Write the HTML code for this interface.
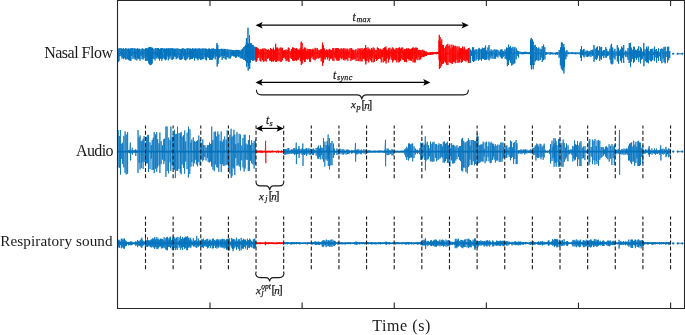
<!DOCTYPE html>
<html><head><meta charset="utf-8">
<style>
html,body{margin:0;padding:0;background:#fff;}
body{width:685px;height:335px;overflow:hidden;}
svg{display:block;will-change:transform;}
text{font-family:"Liberation Serif",serif;fill:#1a1a1a;}
.m{font-style:italic;}
.k{stroke:#1a1a1a;stroke-width:0.25px;}
</style></head>
<body>
<svg width="685" height="335" viewBox="0 0 685 335">
<rect x="0" y="0" width="685" height="335" fill="#fff"/>
<g id="waves">
<path d="M118.0 53.3L118.0 54.1 118.0 49.0 118.1 62.2 118.2 53.3 118.9 52.1 119.0 48.3 119.0 61.1 119.1 54.3 119.8 53.1 119.9 56.1 120.0 48.2 120.0 52.5 121.0 51.9 121.1 56.3 121.2 48.1 121.2 54.6 121.9 51.9 122.0 48.9 122.0 58.5 122.1 53.1 122.9 52.5 122.9 48.8 123.0 57.5 123.0 52.7 123.5 53.7 123.6 48.1 123.7 59.1 123.7 54.8 124.7 54.0 124.7 58.1 124.8 49.0 124.9 54.6 125.6 52.7 125.7 59.6 125.7 48.1 125.8 54.4 126.8 51.9 126.8 48.5 126.9 59.3 126.9 54.2 127.7 53.9 127.7 59.1 127.8 48.9 127.8 52.9 128.6 53.4 128.6 48.5 128.7 60.1 128.7 53.3 129.3 54.7 129.3 59.8 129.4 49.3 129.4 53.0 130.0 54.1 130.1 60.9 130.1 48.5 130.2 54.4 130.8 53.5 130.9 48.5 130.9 60.8 131.0 52.6 131.8 54.2 131.8 56.1 131.9 48.0 132.0 54.5 132.9 53.5 132.9 48.2 133.0 59.0 133.0 52.0 134.0 53.3 134.1 48.4 134.2 57.4 134.2 52.9 134.9 53.6 134.9 48.4 135.0 59.4 135.1 51.9 135.7 54.4 135.7 59.3 135.8 48.9 135.9 54.2 136.8 53.8 136.9 48.8 136.9 60.4 137.0 51.9 137.5 52.1 137.5 57.6 137.6 48.2 137.7 52.8 138.2 52.3 138.3 49.0 138.3 59.0 138.4 53.9 139.1 51.9 139.2 48.7 139.2 58.7 139.3 53.1 139.9 53.3 139.9 49.1 140.0 60.6 140.1 53.6 141.0 52.2 141.1 56.2 141.1 49.4 141.2 52.3 142.1 52.5 142.1 59.1 142.2 48.3 142.3 54.2 143.1 53.0 143.1 59.5 143.2 48.8 143.2 52.8 144.1 54.7 144.1 57.9 144.2 49.2 144.2 52.7 145.2 54.0 145.3 48.7 145.4 60.8 145.4 52.6 145.9 54.3 146.0 56.4 146.0 48.1 146.1 53.5 146.7 53.9 146.7 60.9 146.8 48.1 146.8 52.9 147.5 53.1 147.6 48.6 147.6 60.5 147.7 52.1 148.6 52.8 148.6 60.3 148.7 48.3 148.7 54.5 148.6 47.5 148.8 63.5 148.9 53.3 149.2 54.8 149.3 59.3 149.4 48.5 149.4 52.8 149.4 47.0 149.6 64.5 149.7 53.3 150.0 54.6 150.1 47.8 150.2 62.2 150.2 54.4 150.3 47.0 150.5 65.2 150.6 53.3 151.1 52.5 151.1 62.9 151.2 48.0 151.3 52.1 151.2 47.5 151.3 64.6 151.5 53.3 151.9 54.1 151.9 58.5 152.0 47.6 152.0 54.3 152.0 48.0 152.2 63.6 152.3 53.3 152.7 54.4 152.8 58.9 152.8 48.3 152.9 54.7 153.9 52.1 153.9 49.0 154.0 59.1 154.1 52.0 155.1 52.8 155.1 60.3 155.2 48.2 155.2 54.1 155.9 52.0 156.0 48.4 156.1 57.5 156.1 54.5 156.9 52.6 157.0 58.7 157.0 48.1 157.1 54.3 157.6 52.1 157.6 56.7 157.7 48.3 157.8 51.9 158.4 52.1 158.4 48.0 158.5 58.5 158.6 52.5 159.5 52.9 159.5 60.6 159.6 49.1 159.7 54.5 160.3 52.1 160.4 58.7 160.4 48.8 160.5 51.9 161.0 53.6 161.0 48.1 161.1 57.8 161.2 52.7 161.7 54.7 161.7 48.1 161.8 60.8 161.9 52.4 162.7 53.9 162.8 59.0 162.8 48.1 162.9 52.6 163.7 52.0 163.7 48.8 163.8 57.6 163.9 54.8 164.6 54.6 164.7 48.4 164.7 59.4 164.8 52.7 165.5 54.5 165.5 48.8 165.6 60.3 165.6 52.8 166.4 52.5 166.5 48.4 166.6 59.2 166.6 52.5 167.1 52.0 167.2 56.5 167.3 48.5 167.3 52.7 168.3 52.3 168.3 60.3 168.4 48.5 168.4 54.2 169.0 54.1 169.0 57.2 169.1 48.1 169.1 54.3 169.8 54.6 169.9 49.1 169.9 58.8 170.0 54.5 170.6 52.7 170.6 56.3 170.7 48.2 170.7 54.2 171.7 53.9 171.8 48.2 171.9 59.8 171.9 53.1 172.5 52.6 172.5 48.3 172.6 59.5 172.7 54.7 173.6 54.4 173.7 48.5 173.7 58.9 173.8 53.0 174.5 53.7 174.5 48.9 174.6 56.2 174.6 53.5 175.2 52.2 175.2 48.7 175.3 56.9 175.3 54.3 176.1 52.5 176.1 48.7 176.2 59.2 176.2 53.4 177.0 53.9 177.1 58.4 177.1 48.4 177.2 52.5 178.0 53.0 178.0 57.4 178.1 48.6 178.1 54.5 179.2 51.9 179.2 48.9 179.3 59.3 179.3 53.3 180.3 54.4 180.4 49.1 180.4 59.8 180.5 53.9 181.5 54.0 181.5 59.6 181.6 48.8 181.6 54.4 182.6 52.3 182.7 48.2 182.8 59.0 182.8 52.5 183.6 53.8 183.7 56.4 183.8 48.4 183.8 52.8 184.6 51.9 184.6 59.7 184.7 49.1 184.8 54.2 185.6 54.7 185.7 48.9 185.7 60.4 185.8 54.1 186.8 53.1 186.8 59.5 186.9 48.5 186.9 54.7 187.6 52.3 187.7 48.3 187.8 58.4 187.8 52.2 188.8 53.6 188.9 48.2 188.9 56.8 189.0 52.2 189.7 51.8 189.7 49.0 189.8 59.7 189.8 53.1 190.3 54.3 190.4 48.5 190.5 59.1 190.5 52.7 191.3 52.6 191.4 59.0 191.4 48.9 191.5 54.2 192.4 53.3 192.5 58.8 192.6 48.2 192.6 54.1 193.4 52.1 193.5 57.6 193.5 48.8 193.6 52.2 194.5 54.1 194.6 60.5 194.6 48.6 194.7 52.2 195.5 53.3 195.5 48.6 195.6 57.7 195.6 53.4 196.1 52.7 196.2 48.7 196.3 58.4 196.3 54.1 197.2 52.9 197.2 48.7 197.3 59.2 197.4 51.8 198.0 54.3 198.1 60.2 198.1 48.6 198.2 54.8 198.9 54.0 199.0 58.2 199.1 48.4 199.1 52.7 199.7 52.9 199.8 48.6 199.8 58.7 199.9 53.0 200.6 53.6 200.7 60.0 200.7 48.8 200.8 54.5 201.7 53.7 201.8 59.6 201.8 48.7 201.9 53.7 202.6 54.6 202.6 59.1 202.7 48.6 202.8 54.3 203.7 52.8 203.8 48.4 203.8 59.0 203.9 53.9 204.9 54.3 204.9 48.7 205.0 56.9 205.0 53.2 205.6 53.1 205.6 48.7 205.7 59.6 205.7 53.8 206.2 53.9 206.3 48.7 206.4 60.3 206.4 53.9 207.2 54.5 207.3 49.1 207.4 57.2 207.4 52.0 208.4 53.3 208.4 57.9 208.5 48.7 208.5 52.3 209.4 52.6 209.5 59.8 209.5 48.5 209.6 52.5 210.4 54.4 210.5 49.2 210.5 59.7 210.6 52.5 211.6 51.9 211.7 59.9 211.7 48.6 211.8 53.7 212.5 54.2 212.5 48.9 212.6 59.5 212.6 53.7 213.2 54.5 213.3 58.2 213.3 48.4 213.4 53.6 214.0 52.2 214.1 56.7 214.2 48.8 214.2 52.9 215.1 54.0 215.2 49.2 215.2 59.3 215.3 52.1 216.0 52.4 216.1 48.9 216.1 56.5 216.2 53.6 217.0 43.0 217.2 66.6 217.3 53.3 217.2 53.9 217.2 56.0 217.3 49.3 217.4 54.7 217.8 45.0 218.0 64.0 218.1 53.3 218.2 52.2 218.3 59.6 218.3 49.2 218.4 52.1 219.1 52.3 219.1 49.0 219.2 57.8 219.3 54.3 220.0 53.9 220.1 49.0 220.1 57.0 220.2 53.6 221.2 54.2 221.3 56.1 221.3 48.7 221.4 52.8 222.1 53.0 222.1 59.8 222.2 49.0 222.3 54.1 222.8 52.2 222.9 55.8 223.0 48.8 223.0 52.0 223.7 54.3 223.8 58.0 223.8 49.6 223.9 51.9 224.4 52.6 224.5 48.9 224.5 56.0 224.6 52.1 225.1 53.9 225.2 59.1 225.2 49.1 225.3 53.8 226.0 53.7 226.0 49.2 226.1 59.7 226.2 52.0 227.2 53.6 227.2 57.2 227.3 49.4 227.4 53.4 227.9 52.4 227.9 57.4 228.0 49.7 228.1 53.1 228.9 54.0 229.0 58.4 229.1 49.5 229.1 52.6 230.2 54.4 230.2 58.7 230.3 50.1 230.3 52.0 230.9 52.9 230.9 57.2 231.0 49.6 231.0 51.9 231.8 53.0 231.9 55.8 232.0 50.0 232.0 54.4 232.5 54.2 232.6 50.0 232.6 55.6 232.7 51.9 233.4 52.2 233.5 56.3 233.5 50.0 233.6 54.2 234.6 52.5 234.6 56.5 234.7 50.4 234.7 52.8 235.4 53.6 235.5 50.1 235.5 57.9 235.6 53.8 236.3 54.3 236.4 57.4 236.5 49.9 236.5 53.4 237.5 52.3 237.6 49.9 237.6 56.2 237.7 53.4 238.2 51.9 238.3 57.1 238.4 50.2 238.4 53.8 239.1 52.8 239.1 56.5 239.2 50.2 239.2 53.3 240.0 52.8 240.1 50.3 240.2 58.2 240.2 52.0 241.3 54.6 241.3 58.4 241.4 49.7 241.4 54.2 242.5 52.2 242.5 58.8 242.6 48.6 242.6 53.5 243.7 54.0 243.7 47.1 243.8 59.9 243.9 54.6 244.7 54.7 244.8 59.8 244.8 46.3 244.9 52.3 245.5 54.5 245.5 44.9 245.6 61.2 245.6 53.0 246.5 38.0 246.7 67.0 246.8 53.3 246.5 53.4 246.6 45.5 246.7 58.6 246.7 52.1 247.4 52.0 247.4 42.9 247.5 62.8 247.5 54.4 248.0 27.7 248.2 70.7 248.3 53.3 248.4 51.9 248.4 43.7 248.5 65.8 248.6 54.3 249.5 53.6 249.5 65.5 249.6 43.8 249.6 54.5 249.5 35.0 249.7 69.0 249.8 53.3 250.4 54.6 250.4 62.7 250.5 43.3 250.5 54.0 251.5 52.4 251.6 60.0 251.6 43.4 251.7 54.1 252.5 54.4 252.5 60.6 252.6 45.0 252.6 53.6 253.1 52.4 253.2 45.0 253.3 60.6 253.3 53.9 253.8 54.5 253.9 59.2 253.9 46.9 254.0 54.7 254.8 53.4 254.8 60.3 254.9 46.7 255.0 54.3 256.0 52.7 256.0 47.8 256.1 60.1 256.2 53.3 256.1 53.3 256.1 54.4 256.2 61.7 256.2 47.2 256.3 54.3" fill="none" stroke="#0072BD" stroke-width="0.9" stroke-linejoin="round"/>
<path d="M468.3 53.3L468.3 53.2 468.4 63.0 468.4 48.2 468.5 53.4 469.2 52.7 469.2 47.8 469.3 62.7 469.4 52.6 470.5 54.0 470.5 63.0 470.6 49.5 470.7 53.5 471.4 52.8 471.4 50.8 471.5 55.9 471.5 52.5 472.4 53.5 472.5 47.2 472.6 60.8 472.6 53.6 473.5 53.8 473.6 62.0 473.6 47.4 473.7 53.0 474.4 53.1 474.5 61.1 474.6 50.2 474.6 53.1 475.8 54.0 475.9 49.2 476.0 60.6 476.0 54.1 476.9 52.9 476.9 49.7 477.0 59.0 477.0 53.0 478.3 52.7 478.3 48.8 478.4 60.6 478.5 53.8 479.2 53.7 479.2 47.9 479.3 59.6 479.3 53.5 480.0 54.1 480.1 59.4 480.1 49.2 480.2 53.0 481.4 53.5 481.4 49.3 481.5 60.7 481.5 54.1 482.3 53.0 482.3 47.7 482.4 58.8 482.4 52.6 483.4 53.2 483.5 58.8 483.6 48.2 483.6 53.3 484.6 54.0 484.6 60.0 484.7 47.7 484.8 52.9 485.5 54.0 485.5 59.8 485.6 45.6 485.6 53.5 486.5 52.9 486.6 59.6 486.6 50.5 486.7 52.9 487.8 53.7 487.9 47.5 488.0 59.1 488.0 52.9 489.0 54.0 489.0 45.0 489.1 60.4 489.1 52.5 489.9 53.1 490.0 56.7 490.0 51.0 490.1 52.7 490.9 53.6 491.0 58.7 491.1 49.3 491.1 52.7 491.7 54.0 491.8 51.3 491.8 55.7 491.9 53.5 492.8 52.6 492.9 58.7 492.9 50.2 493.0 53.7 494.2 54.0 494.2 49.3 494.3 58.7 494.4 53.6 495.5 53.9 495.6 58.7 495.7 49.7 495.7 53.5 496.6 53.5 496.6 56.5 496.7 49.7 496.7 53.9 497.8 53.2 497.9 57.5 497.9 49.9 498.0 52.6 499.1 52.9 499.1 55.5 499.2 51.5 499.3 53.3 500.3 53.0 500.3 56.8 500.4 50.1 500.4 52.8 501.1 53.9 501.2 49.3 501.3 58.3 501.3 53.6 502.0 53.9 502.1 49.6 502.2 58.6 502.2 53.4 503.0 53.9 503.1 57.0 503.1 51.1 503.2 54.0 504.0 52.8 504.0 51.0 504.1 56.0 504.1 53.5 505.1 53.2 505.1 49.3 505.2 58.9 505.2 52.6 506.4 53.0 506.5 59.4 506.5 47.7 506.6 52.5 507.3 52.9 507.3 47.7 507.4 66.2 507.4 52.6 508.5 53.8 508.5 65.0 508.6 44.6 508.6 53.6 509.4 53.3 509.4 60.2 509.5 47.4 509.5 52.8 510.3 53.5 510.4 62.7 510.4 46.1 510.5 53.1 511.6 53.7 511.7 47.8 511.7 65.5 511.8 53.2 512.8 53.9 512.8 64.7 512.9 46.8 513.0 54.0 513.9 53.8 513.9 63.8 514.0 48.6 514.0 53.6 514.8 53.4 514.8 63.2 514.9 46.9 514.9 53.0 516.1 53.2 516.2 59.3 516.3 48.4 516.3 53.7 517.2 53.8 517.3 50.6 517.4 55.7 517.4 53.0 518.5 53.7 518.6 57.5 518.6 51.2 518.7 53.6 519.9 52.9 520.0 54.0 520.0 51.6 520.1 53.0 521.2 53.4 521.2 52.0 521.3 54.2 521.3 53.1 522.5 54.0 522.6 54.2 522.6 52.1 522.7 53.4 523.4 52.5 523.5 54.1 523.5 52.1 523.6 53.3 524.4 53.6 524.5 51.8 524.6 54.1 524.6 53.4 525.5 53.3 525.5 51.8 525.6 54.0 525.7 53.2 526.8 52.8 526.8 54.1 526.9 51.9 527.0 54.0 527.6 52.9 527.7 53.9 527.8 52.4 527.8 53.0 528.6 52.7 528.7 54.2 528.8 52.4 528.8 52.9 529.5 53.2 529.6 54.0 529.7 52.1 529.7 52.8 530.5 53.9 530.5 65.1 530.6 40.1 530.6 53.9 531.2 37.9 531.4 69.4 531.5 53.3 531.4 53.0 531.4 38.7 531.5 68.5 531.5 54.0 532.3 52.9 532.3 65.0 532.4 39.4 532.5 52.9 533.1 52.7 533.2 41.7 533.2 69.2 533.3 53.6 533.9 54.0 534.0 45.2 534.0 65.0 534.1 53.3 535.2 52.6 535.2 44.9 535.3 61.4 535.3 52.6 536.3 52.8 536.4 47.1 536.4 60.2 536.5 53.8 537.7 54.0 537.8 48.3 537.9 60.4 537.9 53.7 538.7 53.5 538.8 47.5 538.8 60.8 538.9 53.6 540.0 53.1 540.1 48.8 540.2 60.0 540.2 52.8 541.2 53.6 541.2 57.5 541.3 49.3 541.3 53.5 542.2 53.8 542.2 46.2 542.3 61.9 542.4 54.0 543.5 53.9 543.5 60.1 543.6 44.6 543.6 53.6 544.7 52.6 544.8 47.2 544.9 59.4 544.9 53.3 545.5 52.9 545.6 54.5 545.6 52.4 545.7 53.6 546.5 53.1 546.6 54.6 546.6 52.3 546.7 53.5 547.7 53.5 547.8 54.2 547.9 52.2 547.9 52.9 548.8 52.7 548.8 52.9 548.9 53.9 548.9 53.9 549.9 54.1 550.0 54.6 550.0 52.2 550.1 53.8 550.7 54.0 550.8 52.2 550.8 54.2 550.9 53.3 551.6 54.0 551.7 52.4 551.7 54.1 551.8 53.3 552.8 53.4 552.8 52.6 552.9 54.5 552.9 53.6 553.7 52.8 553.8 53.7 553.9 53.0 553.9 53.1 555.1 54.0 555.1 52.6 555.2 54.8 555.3 53.9 556.2 53.3 556.2 54.3 556.3 52.2 556.3 53.7 557.2 52.7 557.3 54.8 557.3 52.2 557.4 53.2 558.1 53.2 558.2 53.8 558.3 52.8 558.3 53.2 559.1 53.3 559.1 57.7 559.2 50.0 559.2 54.0 560.3 53.8 560.4 65.4 560.5 47.4 560.5 53.1 561.3 53.5 561.3 68.6 561.4 42.4 561.5 52.8 562.2 52.6 562.3 42.7 562.3 70.5 562.4 52.9 563.3 52.6 563.3 47.7 563.4 69.3 563.4 53.6 563.8 44.0 563.9 73.4 564.1 53.3 564.4 52.8 564.4 47.5 564.5 66.8 564.6 53.7 565.7 53.5 565.8 59.3 565.8 51.3 565.9 52.8 566.8 53.5 566.8 56.5 566.9 50.0 566.9 53.0 567.9 53.1 568.0 51.8 568.0 54.2 568.1 53.9 568.7 53.6 568.8 52.6 568.8 53.7 568.9 53.7 569.5 53.0 569.6 53.6 569.7 52.4 569.7 53.6 570.5 53.1 570.6 52.7 570.6 53.8 570.7 53.6 571.6 53.2 571.7 54.1 571.8 52.1 571.8 53.0 572.6 52.9 572.7 52.1 572.7 54.1 572.8 53.1 573.6 53.4 573.7 53.8 573.8 52.5 573.8 53.4 575.0 53.9 575.0 52.5 575.1 54.2 575.1 52.5 576.1 53.5 576.1 54.3 576.2 52.3 576.2 52.6 577.2 53.7 577.3 54.0 577.3 52.6 577.4 52.6 578.4 52.9 578.4 52.6 578.5 54.0 578.6 53.7 579.5 54.0 579.6 54.2 579.6 52.4 579.7 53.3 580.5 53.3 580.5 52.7 580.5 49.4 580.6 57.7 580.7 53.1 581.4 53.4 581.4 61.0 581.5 46.0 581.5 52.7 582.3 53.8 582.4 50.4 582.4 55.0 582.5 53.6 583.2 52.6 583.3 55.8 583.4 49.2 583.4 53.3 584.0 53.2 584.0 48.9 584.1 57.4 584.2 53.0 585.1 52.8 585.1 54.4 585.2 51.9 585.2 53.1 586.0 52.5 586.1 56.6 586.1 50.6 586.2 54.0 587.3 53.6 587.3 56.9 587.4 50.6 587.5 52.7 588.1 53.3 588.2 51.4 588.3 56.3 588.3 53.8 589.1 53.1 589.1 56.4 589.2 51.3 589.3 52.7 590.1 52.9 590.2 51.7 590.2 54.5 590.3 53.5 590.9 53.3 590.9 56.9 591.0 50.1 591.0 53.3 592.1 52.8 592.2 55.6 592.2 50.1 592.3 54.0 592.8 52.9 592.9 49.7 593.0 56.1 593.0 52.6 593.9 52.5 594.0 45.0 594.0 61.9 594.1 53.8 595.1 53.3 595.2 59.2 595.2 48.8 595.3 52.9 596.4 53.9 596.4 47.6 596.5 60.0 596.5 54.0 597.4 53.0 597.4 46.5 597.5 58.3 597.6 53.6 598.5 52.9 598.5 50.5 598.6 55.5 598.7 54.1 599.5 53.7 599.6 46.3 599.7 60.8 599.7 53.4 600.8 53.1 600.8 58.7 600.9 47.3 600.9 53.4 601.5 53.9 601.5 59.7 601.6 46.9 601.7 53.4 602.7 53.0 602.7 56.2 602.8 51.1 602.8 53.6 603.7 53.6 603.7 50.0 603.8 58.1 603.9 52.9 604.6 52.6 604.7 50.2 604.7 55.5 604.8 53.6 605.8 52.5 605.8 47.2 605.9 57.8 606.0 53.2 606.6 53.0 606.6 57.4 606.7 49.1 606.8 52.5 607.5 52.9 607.6 55.9 607.6 51.3 607.7 53.3 608.6 53.8 608.7 51.4 608.7 55.5 608.8 53.2 609.8 53.7 609.9 48.7 610.0 59.5 610.0 53.6 610.9 53.1 611.0 63.5 611.1 45.1 611.1 53.0 611.6 43.8 611.8 64.4 611.9 53.3 611.9 52.9 612.0 56.7 612.1 50.2 612.1 52.9 612.7 53.5 612.7 47.5 612.8 63.7 612.8 53.9 613.9 53.8 614.0 57.9 614.0 50.8 614.1 53.8 614.8 53.1 614.9 48.8 615.0 59.6 615.0 53.1 616.0 54.1 616.1 55.8 616.2 51.4 616.2 52.6 617.2 53.7 617.3 45.0 617.4 61.5 617.4 52.7 618.5 52.5 618.5 47.7 618.6 63.7 618.6 52.5 619.3 52.8 619.3 50.5 619.4 55.9 619.4 53.0 620.5 53.4 620.5 49.5 620.6 60.8 620.6 53.3 621.6 53.2 621.6 62.6 621.7 46.5 621.7 53.1 622.5 54.0 622.6 47.9 622.6 58.2 622.7 53.9 623.6 53.1 623.7 62.8 623.7 45.0 623.8 53.7 624.8 52.6 624.9 51.8 625.0 55.3 625.0 52.5 625.7 54.0 625.7 56.8 625.8 50.5 625.9 53.7 627.0 53.3 627.0 51.5 627.1 57.1 627.1 53.7 627.9 52.6 628.0 59.9 628.0 48.1 628.1 54.0 629.2 53.0 629.2 63.0 629.3 43.0 629.4 53.5 630.3 53.7 630.3 56.1 630.4 51.6 630.5 53.7 630.4 42.9 630.5 67.1 630.7 53.3 631.2 53.3 631.3 47.5 631.3 61.6 631.4 53.5 632.2 53.5 632.3 49.7 632.3 58.8 632.4 53.4 633.5 52.7 633.5 63.1 633.6 46.8 633.7 53.5 634.3 53.1 634.3 46.8 634.4 61.8 634.5 53.1 635.6 52.8 635.6 49.8 635.7 58.2 635.8 52.8 636.5 53.0 636.5 50.4 636.6 59.7 636.7 53.6 637.4 53.6 637.5 48.8 637.5 57.7 637.6 52.9 638.6 53.2 638.7 46.1 638.7 61.8 638.8 53.8 639.5 53.4 639.5 50.8 639.6 57.1 639.6 54.0 640.4 53.1 640.5 63.4 640.6 47.1 640.6 53.7 641.3 53.6 641.3 59.6 641.4 48.6 641.4 53.6 642.2 53.8 642.2 51.4 642.3 58.8 642.4 54.0 643.4 53.0 643.5 50.8 643.5 56.2 643.6 53.2 643.8 42.9 643.9 66.2 644.1 53.3 644.2 52.8 644.2 52.2 644.3 55.4 644.3 53.8 645.1 52.7 645.1 49.3 645.2 61.0 645.3 53.9 646.3 52.8 646.4 62.5 646.5 46.7 646.5 53.7 647.4 54.0 647.4 48.7 647.5 62.2 647.5 53.5 648.2 53.2 648.2 46.4 648.3 63.3 648.3 53.3 649.1 53.3 649.1 59.8 649.2 51.1 649.3 53.8 650.3 53.1 650.4 61.1 650.4 49.2 650.5 52.5 651.5 52.9 651.6 49.1 651.6 61.4 651.7 53.8 652.7 53.9 652.7 60.0 652.8 48.7 652.8 53.1 653.5 54.1 653.6 52.1 653.6 55.0 653.7 53.5 654.3 53.8 654.4 61.1 654.4 46.7 654.5 54.1 655.1 53.4 655.2 57.4 655.3 49.8 655.3 53.7 656.3 53.2 656.4 49.0 656.5 62.6 656.5 52.5 657.4 53.2 657.5 51.3 657.5 57.7 657.6 53.4 658.4 53.0 658.5 60.8 658.6 48.3 658.6 53.0 659.7 53.6 659.7 56.3 659.8 52.0 659.9 52.8 660.5 53.2 660.5 60.7 660.6 49.0 660.6 53.6 661.8 53.0 661.8 48.4 661.9 63.2 661.9 54.0 663.0 52.9 663.0 49.0 663.1 58.6 663.2 52.7 664.0 53.6 664.0 47.0 664.1 62.2 664.2 53.7 665.1 53.4 665.2 46.7 665.2 63.4 665.3 53.3 666.1 52.8 666.1 57.0 666.2 51.3 666.2 53.0 667.4 53.1 667.4 46.9 667.5 62.5 667.5 54.0 668.6 53.4 668.7 46.6 668.7 60.3 668.8 53.0 669.7 53.3 669.7 58.0 669.8 51.1 669.8 52.8" fill="none" stroke="#0072BD" stroke-width="0.9" stroke-linejoin="round"/>
<path d="M256.0 52.7L256.0 47.8 256.1 60.1 256.2 53.3 256.1 53.3 256.1 54.4 256.2 61.7 256.2 47.2 256.3 54.3 256.8 54.3 256.8 47.5 256.9 60.6 257.0 53.2 257.6 52.6 257.6 48.2 257.7 58.2 257.8 54.3 258.7 53.6 258.7 48.7 258.8 57.6 258.9 52.1 259.9 54.2 259.9 50.0 260.0 60.7 260.0 54.4 260.8 53.8 260.9 61.5 260.9 49.0 261.0 54.2 261.7 52.3 261.7 49.7 261.8 58.3 261.8 53.5 262.3 54.1 262.4 48.6 262.4 59.9 262.5 52.9 263.3 52.2 263.3 61.6 263.4 49.4 263.4 54.1 263.9 52.1 264.0 48.3 264.1 61.4 264.1 52.5 265.1 54.4 265.2 48.7 265.3 60.5 265.3 53.0 266.1 54.0 266.2 61.6 266.2 49.2 266.3 52.2 267.3 54.3 267.4 50.1 267.4 58.8 267.5 54.3 268.3 52.3 268.3 49.4 268.4 58.3 268.5 53.8 269.5 53.4 269.6 50.5 269.6 60.5 269.7 52.7 270.5 52.2 270.6 60.8 270.6 48.0 270.7 52.2 271.5 54.4 271.5 61.7 271.6 49.0 271.6 54.0 272.2 52.8 272.3 49.6 272.3 61.4 272.4 54.5 273.4 53.9 273.4 47.7 273.5 61.6 273.5 52.8 274.2 54.4 274.3 60.4 274.4 49.8 274.4 53.3 275.1 54.2 275.2 50.2 275.2 59.4 275.3 54.0 275.7 43.8 275.8 62.0 276.0 53.3 276.2 53.0 276.3 61.7 276.3 47.6 276.4 52.8 277.2 54.4 277.2 60.2 277.3 47.5 277.3 53.5 277.8 53.2 277.9 61.2 277.9 49.1 278.0 53.7 278.9 54.1 279.0 48.5 279.1 60.7 279.1 54.1 280.1 53.3 280.2 61.8 280.2 47.5 280.3 52.5 281.2 53.8 281.3 61.8 281.4 47.7 281.4 52.5 282.4 53.6 282.4 60.3 282.5 47.8 282.5 53.6 283.4 53.7 283.5 50.7 283.6 57.9 283.6 53.7 284.5 52.2 284.5 50.0 284.6 57.4 284.6 52.9 285.2 53.0 285.3 59.0 285.3 50.4 285.4 53.5 286.0 52.8 286.1 49.4 286.1 61.1 286.2 52.4 287.2 52.3 287.2 60.4 287.3 50.0 287.3 52.9 288.2 54.1 288.2 61.3 288.3 47.5 288.3 53.0 288.9 54.4 289.0 61.9 289.0 48.1 289.1 52.9 290.1 53.6 290.1 51.0 290.2 57.8 290.3 53.6 291.3 52.8 291.3 58.9 291.4 49.0 291.4 53.0 292.5 54.5 292.5 47.5 292.6 60.5 292.6 53.1 293.3 53.2 293.4 47.6 293.4 60.8 293.5 53.6 294.2 52.1 294.3 60.9 294.4 48.3 294.4 52.8 295.4 52.5 295.5 60.2 295.6 48.7 295.6 52.8 296.4 53.9 296.5 48.1 296.6 60.8 296.6 53.9 297.3 53.4 297.3 48.9 297.4 59.7 297.4 53.0 298.4 53.2 298.4 59.7 298.5 49.7 298.5 54.2 299.3 53.5 299.4 57.8 299.5 49.6 299.5 53.6 300.3 54.1 300.3 48.0 300.4 61.2 300.5 52.8 301.2 41.6 301.3 64.9 301.5 53.3 301.4 53.1 301.5 49.2 301.5 59.1 301.6 54.0 302.2 43.0 302.3 63.5 302.5 53.3 302.6 53.3 302.7 49.6 302.7 59.1 302.8 52.5 303.6 54.1 303.7 60.1 303.7 49.3 303.8 53.7 304.3 53.8 304.3 47.6 304.4 61.9 304.5 54.1 305.1 52.4 305.1 47.6 305.2 61.8 305.2 54.3 305.8 53.6 305.9 48.6 305.9 59.2 306.0 52.4 306.7 53.9 306.8 58.7 306.8 50.8 306.9 52.4 307.6 54.4 307.7 48.8 307.7 59.6 307.8 52.2 308.7 54.3 308.7 58.9 308.8 49.3 308.8 53.6 309.5 53.3 309.5 49.2 309.6 61.6 309.7 52.7 310.4 53.7 310.4 49.1 310.5 61.7 310.5 53.7 311.1 54.2 311.1 49.5 311.2 57.9 311.3 52.9 312.2 52.5 312.3 56.7 312.3 49.7 312.4 53.7 313.0 54.1 313.0 48.7 313.1 59.2 313.2 53.6 313.9 52.9 313.9 49.8 314.0 59.6 314.0 52.4 315.0 54.1 315.1 60.4 315.1 47.8 315.2 53.5 316.0 52.2 316.0 48.6 316.1 59.1 316.2 52.2 317.2 53.2 317.2 58.0 317.3 48.1 317.3 53.6 318.1 52.5 318.1 49.9 318.2 58.6 318.2 53.0 319.2 52.5 319.3 50.2 319.4 58.0 319.4 52.7 320.2 54.4 320.2 57.5 320.3 49.5 320.4 53.7 321.1 52.8 321.2 61.4 321.2 49.2 321.3 53.9 321.9 52.3 321.9 50.6 322.0 58.0 322.0 54.4 322.5 42.6 322.6 65.8 322.8 53.3 322.7 53.9 322.8 58.6 322.9 49.3 322.9 52.5 323.3 45.0 323.4 63.0 323.6 53.3 323.6 53.1 323.6 61.1 323.7 47.9 323.7 52.1 324.3 53.4 324.3 58.7 324.4 48.6 324.4 53.3 325.1 53.3 325.2 59.5 325.2 50.8 325.3 52.2 325.9 52.7 326.0 50.4 326.0 56.7 326.1 52.8 326.6 53.3 326.7 49.4 326.7 57.0 326.8 53.4 327.3 54.3 327.4 59.4 327.4 50.3 327.5 54.2 328.1 53.5 328.2 50.3 328.2 57.6 328.3 53.6 329.2 54.1 329.2 48.8 329.3 60.8 329.4 52.4 330.0 52.9 330.1 49.5 330.2 59.1 330.2 52.3 330.8 52.7 330.9 50.2 331.0 58.4 331.0 53.8 331.5 52.3 331.6 50.1 331.7 58.3 331.7 52.9 332.6 53.9 332.7 60.6 332.7 48.1 332.8 53.2 333.8 53.8 333.8 48.1 333.9 61.1 333.9 54.0 334.6 52.7 334.7 57.3 334.8 50.8 334.8 52.8 335.3 52.2 335.4 48.3 335.5 58.4 335.5 53.0 336.5 53.1 336.5 48.1 336.6 59.7 336.7 52.9 337.2 52.3 337.2 60.9 337.3 48.2 337.3 52.5 338.2 52.4 338.3 48.2 338.4 60.6 338.4 54.3 339.2 54.3 339.2 60.4 339.3 49.3 339.3 54.4 340.2 52.2 340.2 57.9 340.3 49.5 340.3 52.2 341.2 52.6 341.2 48.2 341.3 59.2 341.3 52.6 342.1 52.9 342.2 48.8 342.3 58.2 342.3 54.5 343.3 52.4 343.3 60.1 343.4 48.3 343.5 53.3 344.0 54.3 344.0 50.7 344.1 59.0 344.1 54.0 344.8 54.0 344.9 48.3 344.9 60.5 345.0 52.1 345.8 52.9 345.8 49.8 345.9 59.4 346.0 52.8 346.7 54.5 346.7 59.1 346.8 48.7 346.8 54.3 347.7 53.0 347.8 60.9 347.8 48.7 347.9 53.7 348.7 53.0 348.7 57.5 348.8 50.5 348.9 53.9 349.8 53.8 349.8 48.5 349.9 58.2 349.9 53.9 350.8 54.1 350.9 61.0 350.9 48.2 351.0 53.6 351.6 54.4 351.6 58.8 351.7 48.2 351.8 53.0 352.3 54.3 352.3 59.9 352.4 50.1 352.4 53.6 353.1 53.8 353.2 49.7 353.3 58.4 353.3 54.2 353.9 54.3 354.0 50.0 354.1 59.6 354.1 53.6 355.0 54.1 355.1 59.0 355.2 50.6 355.2 53.8 355.9 52.8 356.0 49.1 356.1 61.1 356.1 53.6 357.2 53.5 357.2 57.5 357.3 50.8 357.3 52.5 357.9 53.8 358.0 48.4 358.0 61.0 358.1 53.3 359.1 53.6 359.1 61.3 359.2 48.7 359.2 52.6 360.1 52.6 360.2 48.4 360.3 59.1 360.3 52.3 360.9 53.9 360.9 61.4 361.0 49.8 361.1 54.0 362.0 54.4 362.0 48.0 362.1 61.4 362.1 52.3 362.7 53.7 362.7 58.8 362.8 49.9 362.8 52.3 363.5 53.5 363.6 49.2 363.7 58.6 363.7 53.7 364.5 53.9 364.5 59.3 364.6 48.0 364.7 52.8 365.2 54.3 365.3 49.3 365.3 61.1 365.4 52.8 365.6 45.0 365.8 64.4 365.9 53.3 366.2 52.8 366.2 47.8 366.3 61.4 366.3 54.1 367.1 53.7 367.2 50.1 367.3 57.6 367.3 52.8 367.9 53.0 367.9 60.9 368.0 47.4 368.0 52.3 368.7 53.0 368.8 49.4 368.8 62.4 368.9 52.7 369.7 52.6 369.7 58.5 369.8 48.6 369.8 53.2 370.6 53.7 370.6 60.4 370.7 50.2 370.8 52.2 371.5 54.3 371.5 62.2 371.6 48.0 371.6 53.6 372.2 54.2 372.2 58.1 372.3 49.5 372.3 54.3 373.0 52.5 373.1 62.4 373.2 47.4 373.2 53.1 374.3 52.8 374.3 48.4 374.4 62.0 374.4 52.8 375.3 52.3 375.4 50.3 375.4 59.0 375.5 54.3 376.5 54.4 376.5 60.8 376.6 50.4 376.6 52.4 377.3 52.5 377.3 47.4 377.4 59.7 377.4 52.7 378.4 53.3 378.4 58.9 378.5 48.0 378.5 53.8 379.1 53.0 379.1 49.2 379.2 58.6 379.3 53.5 380.3 53.4 380.4 58.9 380.4 48.9 380.5 52.4 381.2 53.1 381.3 62.4 381.4 49.5 381.4 53.6 382.4 53.0 382.4 49.8 382.5 57.2 382.5 52.2 383.2 53.0 383.2 62.4 383.3 48.1 383.4 53.8 384.4 52.5 384.4 61.2 384.5 47.4 384.6 52.3 385.3 54.3 385.4 47.8 385.4 61.1 385.5 53.4 386.0 46.5 386.1 63.5 386.3 53.3 386.5 53.5 386.5 49.8 386.6 59.2 386.6 53.2 387.2 54.4 387.2 50.0 387.3 57.7 387.3 52.8 388.3 53.6 388.3 48.7 388.4 62.4 388.4 53.6 389.1 54.3 389.1 48.1 389.2 59.7 389.2 52.4 389.8 52.2 389.8 59.2 389.9 47.7 389.9 53.3 390.9 53.8 391.0 57.3 391.0 49.7 391.1 53.6 391.7 53.7 391.8 48.8 391.8 59.9 391.9 52.3 392.6 52.3 392.7 62.4 392.8 47.4 392.8 54.1 393.4 52.1 393.4 60.7 393.5 48.6 393.5 53.3 394.6 52.7 394.6 59.5 394.7 49.5 394.7 52.6 395.3 53.6 395.3 60.0 395.4 49.9 395.4 52.5 396.0 53.5 396.1 60.6 396.1 47.9 396.2 52.4 396.8 53.4 396.9 62.4 397.0 48.3 397.0 53.1 397.9 52.7 398.0 48.4 398.1 59.9 398.1 54.2 398.8 52.4 398.8 62.4 398.9 47.7 398.9 52.9 399.5 52.2 399.5 61.7 399.6 47.4 399.7 53.0 400.5 52.9 400.6 48.7 400.6 61.1 400.7 52.3 401.6 52.8 401.6 47.6 401.7 58.6 401.8 54.4 402.7 53.1 402.8 47.6 402.8 60.0 402.9 52.2 403.7 54.3 403.7 60.1 403.8 50.0 403.9 53.2 404.4 52.3 404.5 61.9 404.5 49.1 404.6 53.4 405.3 53.1 405.4 48.9 405.4 61.8 405.5 53.3 406.5 52.9 406.6 62.2 406.6 48.3 406.7 53.4 407.3 53.2 407.3 58.5 407.4 48.9 407.4 53.5 408.2 53.2 408.3 59.0 408.3 48.3 408.4 53.6 408.9 52.3 409.0 60.5 409.1 48.7 409.1 52.4 409.7 54.2 409.8 49.8 409.8 59.3 409.9 53.8 410.4 52.2 410.5 60.5 410.6 49.0 410.6 52.4 411.5 53.3 411.6 60.8 411.7 48.6 411.7 54.3 412.4 53.1 412.4 47.8 412.5 58.7 412.5 54.4 413.1 52.1 413.1 62.4 413.2 47.4 413.3 52.8 414.3 53.7 414.3 48.3 414.4 62.4 414.4 53.9 415.2 52.5 415.3 47.6 415.3 62.3 415.4 52.1 416.3 53.4 416.4 47.7 416.4 59.1 416.5 52.4 417.1 54.1 417.2 60.2 417.2 47.9 417.3 53.0 418.1 53.7 418.2 57.2 418.3 50.1 418.3 53.9 419.1 53.0 419.1 60.2 419.2 49.7 419.3 53.9 420.0 54.1 420.1 50.1 420.1 58.8 420.2 52.2 420.7 53.2 420.7 59.4 420.8 50.1 420.8 53.2 421.6 53.6 421.7 57.3 421.8 50.6 421.8 53.6 422.7 54.2 422.8 57.1 422.8 49.6 422.9 52.6 423.4 52.3 423.5 51.3 423.5 56.9 423.6 52.1 424.3 52.5 424.4 56.5 424.4 50.7 424.5 54.2 425.4 53.1 425.4 51.6 425.5 55.9 425.6 53.2 426.5 53.9 426.5 55.8 426.6 51.6 426.7 54.3 427.6 54.2 427.7 54.4 427.7 52.5 427.8 53.2 428.4 53.9 428.4 52.7 428.5 54.3 428.5 53.4 429.5 53.0 429.6 52.7 429.6 54.2 429.7 52.8 430.2 52.1 430.2 53.9 430.3 52.6 430.4 54.4 431.3 52.5 431.4 52.2 431.4 53.9 431.5 52.2 432.3 53.2 432.4 54.2 432.5 52.2 432.5 53.6 433.3 54.1 433.4 52.4 433.4 53.9 433.5 52.8 434.4 53.7 434.5 53.7 434.6 52.4 434.6 52.3 435.5 54.0 435.6 52.2 435.6 54.0 435.7 53.7 436.3 54.3 436.3 53.9 436.4 52.3 436.4 52.2 437.2 52.8 437.3 52.0 437.3 53.7 437.4 52.3 438.3 52.8 438.3 53.6 438.4 52.2 438.4 52.8 439.0 52.9 439.0 40.7 439.1 59.7 439.2 53.7 439.3 34.9 439.4 68.9 439.6 53.3 439.9 53.7 440.0 41.1 440.0 61.5 440.1 54.2 440.1 37.0 440.2 68.0 440.4 53.3 440.6 54.1 440.7 61.8 440.7 44.1 440.8 52.9 441.6 53.7 441.6 65.8 441.7 39.5 441.7 53.1 442.5 52.8 442.5 44.9 442.6 63.9 442.6 53.5 443.5 52.2 443.5 45.0 443.6 63.4 443.6 53.9 444.7 52.8 444.7 61.5 444.8 47.9 444.8 52.2 445.6 53.3 445.6 62.6 445.7 46.4 445.7 54.1 446.6 52.9 446.6 64.8 446.7 44.8 446.8 52.4 447.8 54.4 447.8 43.8 447.9 65.0 447.9 54.2 449.0 53.2 449.0 46.0 449.1 61.8 449.2 52.5 449.9 53.6 449.9 44.7 450.0 62.7 450.1 53.6 450.8 53.7 450.9 48.5 450.9 62.9 451.0 53.3 451.8 52.8 451.9 44.6 451.9 63.7 452.0 53.6 452.6 52.8 452.6 63.6 452.7 47.3 452.7 52.2 453.4 53.2 453.4 45.1 453.5 61.9 453.5 52.4 454.1 52.3 454.2 46.3 454.3 61.9 454.3 54.5 455.2 52.7 455.3 45.7 455.3 63.2 455.4 52.7 455.9 52.1 456.0 47.7 456.1 59.8 456.1 54.1 457.1 53.4 457.1 46.1 457.2 62.9 457.3 53.5 457.9 52.4 458.0 49.9 458.0 58.6 458.1 52.7 458.8 53.9 458.8 62.9 458.9 46.5 459.0 52.9 459.7 54.0 459.7 47.7 459.8 62.0 459.8 52.5 460.3 52.8 460.4 48.4 460.5 59.1 460.5 52.6 461.4 52.6 461.4 62.7 461.5 48.3 461.6 52.4 462.4 54.2 462.4 61.9 462.5 46.6 462.6 53.8 463.1 52.3 463.1 60.0 463.2 48.9 463.3 52.9 464.0 53.4 464.1 60.4 464.2 46.8 464.2 53.7 464.9 53.6 464.9 48.6 465.0 60.8 465.0 53.2 465.9 52.1 465.9 49.9 466.0 61.6 466.0 52.8 466.5 54.3 466.6 49.6 466.7 59.9 466.7 52.9 467.6 52.8 467.7 60.4 467.7 49.3 467.8 53.2 468.3 53.3 468.3 53.2 468.4 63.0 468.4 48.2 468.5 53.4" fill="none" stroke="#FF0000" stroke-width="0.9" stroke-linejoin="round"/>
<path d="M118.0 151.6L118.0 151.1 118.0 167.1 118.1 130.0 118.2 151.9 119.3 151.7 119.3 136.1 119.4 168.0 119.4 151.5 120.3 151.7 120.4 130.0 120.5 174.5 120.5 151.3 121.2 151.5 121.2 159.1 121.3 143.7 121.3 151.6 122.4 151.2 122.4 163.9 122.5 142.8 122.5 152.2 123.6 151.9 123.7 167.4 123.8 135.9 123.8 151.9 125.0 151.2 125.0 172.7 125.1 131.5 125.2 151.9 126.1 151.6 126.2 174.5 126.2 134.5 126.3 151.4 127.5 152.1 127.6 173.8 127.6 132.0 127.7 151.6 128.5 152.1 128.5 150.4 128.6 152.4 128.7 152.1 129.5 151.6 129.5 153.2 129.6 150.0 129.7 151.7 130.4 142.6 130.6 160.5 130.7 151.6 130.5 151.7 130.6 150.6 130.6 152.8 130.7 152.0 131.8 151.1 131.9 153.2 131.9 150.4 132.0 151.3 132.3 147.8 132.5 154.6 132.6 151.6 132.8 152.0 132.8 150.5 132.9 153.1 133.0 151.3 134.2 151.4 134.2 150.2 134.3 152.4 134.4 151.8 135.1 151.0 135.1 150.6 135.2 153.2 135.2 152.0 135.7 149.0 135.8 156.0 136.0 151.6 136.0 151.1 136.0 152.4 136.1 150.6 136.1 151.2 136.8 151.1 136.9 150.4 136.9 152.9 137.0 151.0 137.9 151.9 138.0 173.0 138.0 130.0 138.1 151.8 139.1 151.1 139.1 137.2 139.2 162.9 139.2 152.0 139.9 151.2 140.0 169.5 140.1 135.4 140.1 151.3 141.2 151.2 141.2 141.3 141.3 168.1 141.3 151.0 142.1 152.2 142.1 162.1 142.2 140.6 142.3 152.2 143.0 151.7 143.1 168.9 143.2 138.8 143.2 151.9 144.0 151.0 144.1 136.1 144.2 162.1 144.2 151.1 145.3 151.3 145.4 142.5 145.5 162.1 145.5 151.6 146.5 152.1 146.5 163.3 146.6 136.8 146.6 151.9 147.6 151.5 147.6 163.4 147.7 134.9 147.7 151.2 148.4 152.1 148.5 172.0 148.6 134.9 148.6 151.3 149.9 151.1 150.0 142.3 150.0 169.0 150.1 152.0 151.2 151.6 151.2 145.0 151.3 158.6 151.4 151.7 152.0 151.1 152.1 170.0 152.2 139.9 152.2 151.2 153.2 151.5 153.3 137.8 153.4 169.9 153.4 151.1 154.1 151.8 154.2 132.0 154.2 173.2 154.3 151.8 155.4 151.5 155.5 168.8 155.6 134.4 155.6 151.3 156.6 152.1 156.7 171.7 156.7 132.2 156.8 151.4 157.6 151.8 157.6 167.4 157.7 139.2 157.7 151.7 158.9 151.2 159.0 143.3 159.1 165.5 159.1 151.1 159.8 151.2 159.9 132.5 159.9 173.0 160.0 151.3 161.1 151.1 161.1 164.3 161.2 141.1 161.2 152.1 162.4 151.3 162.5 159.6 162.5 145.4 162.6 151.6 163.7 151.7 163.7 139.3 163.8 164.1 163.9 151.5 164.5 151.6 164.6 138.7 164.6 161.1 164.7 151.5 165.8 152.2 165.9 126.5 165.9 176.9 166.0 151.9 167.1 151.7 167.1 126.5 167.2 170.9 167.2 151.8 168.6 151.9 168.6 173.4 168.7 137.6 168.7 151.8 169.9 151.7 170.0 162.3 170.0 140.1 170.1 152.1 170.8 151.9 170.8 170.9 170.9 126.5 171.0 151.2 172.2 151.3 172.2 164.9 172.3 137.3 172.3 151.6 173.1 151.6 173.2 168.6 173.2 134.2 173.3 151.8 174.4 151.3 174.5 169.6 174.5 129.8 174.6 151.0 175.3 151.9 175.3 134.1 175.4 178.0 175.5 151.8 176.6 151.5 176.7 133.9 176.8 170.7 176.8 151.4 177.5 151.6 177.5 126.5 177.6 171.0 177.6 151.5 178.9 151.6 178.9 168.9 179.0 133.1 179.0 151.1 180.2 151.8 180.3 133.1 180.3 172.6 180.4 152.0 181.1 152.0 181.1 174.3 181.2 131.8 181.3 151.8 182.1 151.3 182.2 164.6 182.2 136.6 182.3 151.1 183.5 151.1 183.5 135.3 183.6 167.8 183.7 151.2 184.6 151.5 184.6 173.7 184.7 130.4 184.8 152.1 185.6 151.8 185.7 141.5 185.7 161.5 185.8 151.4 187.0 151.5 187.0 169.0 187.1 132.6 187.1 151.4 188.4 152.1 188.4 177.5 188.5 126.7 188.6 151.9 189.8 151.3 189.8 173.8 189.9 129.3 190.0 151.8 190.9 151.4 190.9 142.4 191.0 166.7 191.0 152.1 191.8 151.4 191.8 139.5 191.9 162.1 192.0 152.1 193.2 151.3 193.3 166.4 193.3 137.3 193.4 151.5 194.2 152.1 194.3 141.0 194.3 163.4 194.4 151.2 195.1 151.4 195.2 141.8 195.3 159.8 195.3 151.3 196.4 151.1 196.4 141.2 196.5 164.5 196.5 152.0 197.5 152.0 197.5 140.4 197.6 166.3 197.6 151.9 198.7 151.6 198.8 162.2 198.8 135.5 198.9 151.4 200.1 152.2 200.1 165.1 200.2 139.9 200.3 152.0 201.2 151.1 201.3 159.5 201.3 142.6 201.4 151.2 202.7 151.4 202.7 161.3 202.8 139.5 202.8 151.0 203.5 151.8 203.6 145.1 203.7 159.9 203.7 152.2 204.8 151.6 204.8 157.0 204.9 145.1 205.0 151.2 205.9 152.0 206.0 160.5 206.1 147.5 206.1 151.8 207.3 151.1 207.4 145.2 207.5 157.9 207.5 151.3 208.2 152.0 208.2 161.9 208.3 145.0 208.4 151.9 209.3 152.0 209.4 162.7 209.5 142.6 209.5 151.3 210.4 151.5 210.5 161.5 210.5 144.0 210.6 152.0 211.6 152.2 211.7 143.1 211.7 166.6 211.8 151.8 211.7 126.5 211.8 165.0 212.0 151.6 212.9 151.2 212.9 140.0 213.0 169.7 213.1 151.7 214.1 151.6 214.2 131.8 214.3 171.2 214.3 151.9 215.5 151.2 215.6 131.5 215.6 164.5 215.7 151.8 216.7 152.1 216.7 136.4 216.8 167.2 216.9 151.4 217.6 152.1 217.7 167.6 217.8 131.5 217.8 151.5 218.7 151.1 218.8 171.7 218.9 134.3 218.9 151.3 220.2 151.5 220.2 164.1 220.3 141.0 220.3 152.1 221.1 151.5 221.2 131.5 221.2 172.0 221.3 151.4 222.2 151.2 222.3 141.7 222.4 164.2 222.4 151.7 223.3 151.3 223.3 165.9 223.4 139.5 223.4 151.8 224.7 152.0 224.7 136.5 224.8 165.7 224.8 151.0 226.1 151.3 226.1 165.1 226.2 139.6 226.3 151.4 227.2 151.7 227.2 130.3 227.3 164.5 227.4 151.2 228.4 152.1 228.5 171.5 228.5 140.1 228.6 151.6 229.8 152.2 229.8 173.6 229.9 134.7 229.9 151.2 231.1 151.6 231.1 128.7 231.2 178.0 231.2 151.3 231.9 151.5 232.0 137.0 232.0 176.3 232.1 152.2 233.0 151.3 233.0 167.8 233.1 135.7 233.2 152.0 233.9 151.8 233.9 129.7 234.0 168.9 234.0 151.6 234.7 151.7 234.8 175.1 234.9 134.7 234.9 151.9 235.7 151.2 235.7 144.2 235.8 158.2 235.9 151.6 236.9 151.7 237.0 132.1 237.0 165.8 237.1 151.8 238.0 151.6 238.1 164.6 238.1 143.0 238.2 151.4 239.1 151.9 239.1 133.8 239.2 166.5 239.2 152.1 240.3 152.2 240.4 134.5 240.4 170.5 240.5 151.4 241.7 151.9 241.7 160.3 241.8 145.5 241.9 151.1 242.9 151.9 242.9 138.1 243.0 167.4 243.0 151.1 244.1 151.4 244.1 171.5 244.2 134.7 244.3 151.0 245.1 152.1 245.1 134.8 245.2 168.5 245.2 151.7 245.9 151.5 246.0 159.5 246.0 143.6 246.1 151.3 247.2 151.5 247.2 160.0 247.3 144.5 247.3 151.2 248.3 151.7 248.3 171.1 248.4 140.1 248.4 151.5 249.4 151.2 249.4 170.8 249.5 135.1 249.5 151.2 250.4 151.8 250.5 160.7 250.5 144.9 250.6 151.3 251.5 151.3 251.6 163.2 251.6 140.2 251.7 152.1 252.9 152.0 252.9 164.4 253.0 142.9 253.1 151.7 254.1 151.4 254.1 168.6 254.2 140.8 254.3 151.6 255.4 152.1 255.4 164.6 255.5 139.5 255.5 151.5" fill="none" stroke="#0072BD" stroke-width="0.75" stroke-linejoin="round"/>
<path d="M283.4 151.6L283.5 149.5 283.5 153.7 283.6 151.1 284.7 152.1 284.7 149.0 284.8 155.0 284.8 152.0 285.6 151.6 285.6 149.1 285.7 154.4 285.7 152.1 286.8 151.1 286.8 149.0 286.9 154.3 286.9 151.5 287.9 152.1 287.9 154.2 288.0 148.1 288.0 151.4 288.8 151.8 288.8 148.1 288.9 153.9 289.0 151.5 290.1 152.1 290.2 149.8 290.2 153.7 290.3 152.0 291.4 151.9 291.5 153.7 291.5 149.4 291.6 151.4 292.6 151.1 292.6 149.5 292.7 153.6 292.7 151.4 293.7 151.7 293.7 148.3 293.8 153.9 293.8 151.3 294.6 151.2 294.6 148.2 294.7 155.0 294.7 151.1 295.6 151.8 295.6 154.0 295.7 149.9 295.7 151.2 296.3 142.6 296.4 164.1 296.6 151.6 296.4 151.2 296.4 148.7 296.5 154.3 296.5 151.3 297.4 151.4 297.4 149.5 297.5 154.1 297.5 151.6 298.7 152.0 298.8 148.2 298.9 154.0 298.9 151.7 299.0 146.0 299.1 158.0 299.3 151.6 299.9 151.0 300.0 153.5 300.0 149.2 300.1 152.1 301.0 151.6 301.1 153.2 301.2 149.6 301.2 151.2 302.0 151.5 302.0 155.0 302.1 148.3 302.2 152.1 302.9 143.5 303.0 165.9 303.2 151.6 303.1 152.0 303.2 149.2 303.3 153.9 303.3 151.6 304.5 151.1 304.5 155.0 304.6 149.3 304.6 152.1 305.6 151.9 305.7 154.2 305.8 148.7 305.8 152.1 306.5 148.0 306.6 156.0 306.8 151.6 306.8 151.3 306.9 148.6 307.0 154.2 307.0 151.0 308.1 151.9 308.1 148.6 308.2 153.3 308.2 151.4 309.1 151.2 309.1 148.4 309.2 154.9 309.2 151.4 310.6 151.1 310.6 148.9 310.7 154.8 310.7 151.5 311.5 151.8 311.6 149.1 311.6 153.4 311.7 151.8 312.4 152.2 312.5 155.0 312.6 148.9 312.6 151.0 313.5 151.6 313.5 155.0 313.6 148.5 313.7 152.1 314.7 151.2 314.8 153.4 314.8 149.7 314.9 152.0 316.1 151.3 316.1 148.0 316.2 155.7 316.2 151.7 317.5 151.8 317.6 158.5 317.6 147.5 317.7 151.5 318.5 151.7 318.5 145.6 318.6 158.8 318.6 151.3 319.4 151.8 319.5 148.5 319.6 156.8 319.6 152.1 320.3 151.3 320.3 159.4 320.4 145.3 320.4 152.1 321.2 151.1 321.2 147.5 321.3 155.1 321.4 151.2 322.2 151.7 322.2 159.3 322.3 147.9 322.3 151.4 323.5 151.4 323.5 138.1 323.6 161.8 323.7 151.6 324.8 151.7 324.8 166.6 324.9 141.7 324.9 151.5 326.0 151.3 326.1 159.5 326.1 145.1 326.2 151.2 327.1 151.2 327.2 141.1 327.2 160.8 327.3 151.8 328.2 134.5 328.3 166.0 328.5 151.6 328.2 151.2 328.3 158.9 328.3 145.1 328.4 151.6 329.3 151.1 329.3 147.1 329.4 154.3 329.4 151.9 329.4 138.0 329.5 169.5 329.7 151.6 330.7 151.0 330.8 143.0 330.8 165.4 330.9 151.1 331.9 151.9 332.0 165.2 332.0 141.0 332.1 151.2 333.3 151.9 333.4 157.9 333.5 143.6 333.5 151.6 334.3 151.4 334.4 155.0 334.4 148.5 334.5 151.1 335.6 151.8 335.6 152.5 335.7 150.8 335.8 151.6 336.8 152.0 336.9 148.5 337.0 155.0 337.0 151.1 338.3 151.2 338.3 149.2 338.4 154.4 338.4 151.5 339.7 151.7 339.7 154.3 339.8 148.5 339.8 151.5 340.9 151.6 340.9 153.6 341.0 149.3 341.0 151.4 342.2 151.8 342.3 154.5 342.4 149.4 342.4 152.0 343.6 151.1 343.6 154.5 343.7 149.3 343.8 151.6 344.7 152.1 344.7 153.5 344.8 150.4 344.9 151.9 346.1 152.0 346.1 154.7 346.2 149.6 346.3 151.3 347.4 151.8 347.4 149.7 347.5 154.1 347.6 151.8 348.2 151.3 348.3 153.9 348.3 149.6 348.4 151.2 349.4 151.7 349.4 153.5 349.5 150.3 349.5 151.1 350.4 152.0 350.4 152.3 350.5 151.0 350.5 151.3 351.5 152.1 351.6 150.0 351.6 153.8 351.7 151.5 352.7 151.1 352.7 150.3 352.8 153.2 352.9 152.0 353.6 151.7 353.7 150.9 353.7 152.1 353.8 151.2 354.6 151.8 354.7 150.2 354.8 153.1 354.8 152.2 355.5 142.9 355.6 161.7 355.8 151.6 355.9 151.7 355.9 153.3 356.0 150.3 356.0 151.8 356.7 151.2 356.8 149.7 356.8 154.5 356.9 151.9 357.8 151.5 357.9 149.1 358.0 154.2 358.0 151.6 358.8 151.9 358.9 153.2 358.9 149.6 359.0 151.6 360.2 151.9 360.2 154.1 360.3 150.4 360.3 152.1 361.3 151.3 361.3 154.3 361.4 149.5 361.4 152.1 362.2 151.3 362.3 152.7 362.4 150.9 362.4 151.1 363.7 151.1 363.7 153.4 363.8 149.3 363.8 151.4 365.1 151.7 365.2 154.3 365.2 149.6 365.3 151.3 366.3 151.5 366.4 149.5 366.4 153.9 366.5 151.5 367.8 151.9 367.8 153.1 367.9 150.5 368.0 151.1 368.9 152.1 368.9 152.6 369.0 150.2 369.1 151.0 370.0 151.2 370.1 152.6 370.2 150.7 370.2 151.0 371.4 152.2 371.5 152.4 371.5 151.2 371.6 151.9 372.5 151.3 372.5 150.9 372.6 152.4 372.7 151.3 373.5 151.2 373.5 152.2 373.6 151.0 373.6 151.7 374.8 151.0 374.9 150.6 374.9 152.5 375.0 151.5 375.7 152.2 375.7 152.5 375.8 151.0 375.9 151.5 376.8 151.6 376.8 151.9 376.9 151.2 377.0 151.5 378.1 151.3 378.1 152.5 378.2 150.6 378.2 151.6 379.1 151.5 379.1 150.6 379.2 152.6 379.2 151.3 380.1 151.1 380.1 150.8 380.2 152.3 380.3 151.2 381.6 151.2 381.6 152.2 381.7 150.8 381.7 151.1 382.7 152.0 382.8 150.9 382.8 152.5 382.9 151.4 383.8 151.4 383.9 152.5 384.0 150.8 384.0 151.5 384.7 152.1 384.7 152.6 384.8 150.4 384.8 151.6 385.5 139.8 385.6 166.2 385.8 151.6 385.7 151.8 385.7 153.3 385.8 150.5 385.8 151.0 387.0 152.0 387.1 155.1 387.1 148.5 387.2 151.7 388.1 151.9 388.2 148.6 388.2 155.1 388.3 151.7 389.1 151.9 389.1 154.9 389.2 149.9 389.3 151.6 390.5 151.4 390.5 150.4 390.6 154.0 390.7 151.7 391.8 151.8 391.9 155.5 391.9 149.0 392.0 151.7 392.9 151.2 393.0 149.7 393.1 155.5 393.1 151.8 394.1 151.3 394.1 151.1 394.2 152.1 394.2 151.8 395.0 152.0 395.1 152.4 395.1 150.9 395.2 151.3 395.9 151.3 396.0 152.5 396.0 150.9 396.1 151.4 396.9 151.7 397.0 152.2 397.0 150.9 397.1 151.0 398.1 151.3 398.1 151.0 398.2 152.4 398.3 151.5 399.0 151.8 399.0 152.3 399.1 151.2 399.2 152.2 400.0 151.6 400.1 152.3 400.1 150.9 400.2 151.7 400.8 151.9 400.9 152.3 401.0 150.9 401.0 151.1 402.0 152.2 402.0 152.6 402.1 150.6 402.1 151.5 403.4 151.9 403.4 152.5 403.5 150.7 403.5 151.5 404.7 151.6 404.8 149.2 404.8 154.7 404.9 152.1 405.7 151.5 405.7 157.1 405.8 148.3 405.8 151.2 406.7 151.2 406.8 160.0 406.8 146.7 406.9 151.4 407.6 151.1 407.7 148.4 407.7 157.2 407.8 151.3 408.5 151.4 408.5 143.5 408.6 160.5 408.6 151.9 409.4 151.8 409.5 143.5 409.6 158.1 409.6 151.6 410.5 152.0 410.6 144.4 410.6 157.4 410.7 151.4 411.7 151.5 411.7 157.5 411.8 143.7 411.8 151.6 412.6 151.6 412.7 143.5 412.7 161.4 412.8 151.6 414.0 151.4 414.0 157.9 414.1 146.4 414.1 151.4 415.4 151.0 415.5 154.4 415.5 148.6 415.6 151.5 416.3 152.1 416.3 150.1 416.4 152.7 416.5 151.8 417.3 151.1 417.4 149.6 417.5 154.0 417.5 151.7 418.8 151.2 418.9 150.4 419.0 152.5 419.0 151.4 419.7 152.1 419.7 154.3 419.8 148.2 419.9 151.9 420.7 151.2 420.7 159.7 420.8 142.5 420.8 151.5 421.5 151.2 421.6 143.9 421.6 159.9 421.7 151.6 422.7 151.9 422.8 158.3 422.8 142.7 422.9 151.2 423.9 151.3 424.0 144.7 424.0 156.3 424.1 151.8 424.7 151.1 424.8 160.0 424.9 145.0 424.9 152.0 425.3 136.3 425.4 170.4 425.6 151.6 425.8 151.4 425.9 143.6 425.9 160.8 426.0 151.1 427.2 151.2 427.2 159.6 427.3 141.7 427.3 152.1 428.4 152.0 428.4 159.2 428.5 145.2 428.5 151.9 429.2 151.6 429.2 148.2 429.3 156.5 429.4 152.0 430.4 151.9 430.4 161.4 430.5 141.7 430.5 151.6 431.7 151.2 431.8 161.5 431.8 143.8 431.9 152.1 432.7 151.2 432.7 142.2 432.8 161.6 432.8 151.3 433.9 151.5 433.9 161.5 434.0 141.7 434.0 151.9 435.3 151.3 435.3 143.9 435.4 157.9 435.4 151.5 436.5 151.5 436.6 161.3 436.6 144.1 436.7 151.7 438.0 151.4 438.0 160.1 438.1 145.1 438.1 151.4 438.9 151.3 438.9 159.0 439.0 143.3 439.0 151.6 440.2 151.2 440.2 158.3 440.3 144.1 440.3 151.8 441.2 151.7 441.2 157.1 441.3 144.1 441.4 151.8 442.3 151.8 442.4 157.5 442.4 146.4 442.5 151.3 443.2 151.7 443.2 162.6 443.3 141.7 443.4 151.7 444.5 152.2 444.5 141.7 444.6 162.7 444.7 151.2 445.4 151.6 445.5 161.2 445.6 143.8 445.6 151.5 446.2 151.9 446.3 142.9 446.4 158.9 446.4 152.1 447.4 151.2 447.4 163.0 447.5 141.7 447.5 152.2 448.3 152.0 448.3 163.0 448.4 145.4 448.4 151.9 449.3 151.7 449.4 158.7 449.5 145.8 449.5 151.4 449.8 143.5 449.9 166.8 450.1 151.6 450.2 152.1 450.2 156.0 450.3 148.1 450.3 152.1 451.5 151.9 451.5 160.4 451.6 143.3 451.7 151.8 452.6 151.2 452.7 163.6 452.7 145.1 452.8 151.6 453.5 151.5 453.5 144.8 453.6 163.3 453.6 151.2 454.7 151.2 454.7 162.8 454.8 145.6 454.8 151.5 455.7 151.9 455.8 160.4 455.9 146.8 455.9 151.4 456.9 151.9 457.0 159.1 457.0 145.2 457.1 151.6 458.4 151.8 458.4 147.6 458.5 157.0 458.5 151.9 459.3 151.5 459.4 160.1 459.4 145.9 459.5 151.6 460.5 151.8 460.5 161.1 460.6 146.0 460.7 151.7 461.6 151.1 461.6 170.6 461.7 138.9 461.7 151.2 462.5 151.4 462.6 137.9 462.7 171.5 462.7 151.4 463.5 151.2 463.6 167.6 463.7 140.9 463.7 151.9 464.8 151.8 464.9 167.8 465.0 142.6 465.0 151.1 465.9 152.2 465.9 171.8 466.0 142.2 466.0 151.8 467.2 152.2 467.3 140.9 467.3 173.3 467.4 151.5 468.3 151.4 468.3 167.1 468.4 138.4 468.4 151.7 469.1 151.8 469.1 165.5 469.2 140.2 469.3 151.7 470.0 151.0 470.0 159.7 470.1 145.6 470.1 151.1 471.1 151.9 471.1 140.1 471.2 164.7 471.3 151.7 471.9 152.2 472.0 164.9 472.1 140.1 472.1 151.2 473.3 151.2 473.3 161.3 473.4 140.0 473.5 151.5 474.2 151.1 474.3 140.9 474.4 165.4 474.4 152.2 475.4 151.1 475.4 163.9 475.5 141.2 475.6 151.0 476.8 151.2 476.9 139.1 477.0 164.9 477.0 151.6 477.2 133.6 477.3 165.0 477.5 151.6 478.0 151.5 478.1 136.5 478.1 163.3 478.2 151.0 479.1 152.0 479.1 163.2 479.2 145.1 479.2 151.7 480.1 152.0 480.1 162.3 480.2 144.8 480.3 151.9 481.0 151.7 481.1 161.3 481.1 144.5 481.2 151.1 482.0 151.2 482.1 161.4 482.1 144.2 482.2 151.9 483.1 151.1 483.1 161.7 483.2 141.7 483.3 151.8 484.1 151.8 484.1 156.4 484.2 148.9 484.2 151.8 485.1 151.7 485.1 163.2 485.2 142.3 485.2 152.0 486.6 151.4 486.6 141.7 486.7 161.2 486.7 151.4 488.0 151.9 488.0 157.2 488.1 146.1 488.1 151.5 488.9 151.6 488.9 141.7 489.0 161.4 489.1 151.6 490.1 151.7 490.2 143.1 490.3 163.2 490.3 152.0 491.1 152.0 491.2 163.0 491.2 141.8 491.3 151.8 492.5 151.6 492.5 160.1 492.6 143.6 492.6 152.1 493.3 151.8 493.3 143.7 493.4 156.5 493.4 151.3 494.1 152.0 494.2 159.5 494.2 145.9 494.3 151.2 495.3 151.3 495.3 144.1 495.4 162.5 495.4 151.7 496.7 151.1 496.7 160.6 496.8 145.7 496.8 151.7 497.7 151.7 497.7 160.4 497.8 144.5 497.9 151.2 499.2 151.3 499.2 161.9 499.3 144.8 499.3 151.3 500.6 151.9 500.6 161.7 500.7 142.6 500.7 151.4 501.9 151.4 501.9 142.6 502.0 161.6 502.1 151.8 502.9 151.5 503.0 158.7 503.0 142.6 503.1 151.6 503.8 152.1 503.8 157.4 503.9 147.0 503.9 151.9 504.6 151.3 504.6 148.7 504.7 156.8 504.7 151.9 505.9 151.7 506.0 145.9 506.0 157.8 506.1 152.0 506.7 151.3 506.8 157.8 506.8 145.3 506.9 151.4 507.9 151.7 508.0 154.9 508.0 148.5 508.1 151.7 509.1 152.0 509.2 157.0 509.2 147.0 509.3 152.1 510.4 151.9 510.5 160.3 510.5 140.6 510.6 151.3 511.5 151.1 511.5 158.1 511.6 141.6 511.7 151.9 512.6 152.1 512.6 147.4 512.7 156.9 512.7 152.0 513.5 151.9 513.6 164.1 513.6 142.9 513.7 151.3 514.6 151.7 514.7 142.0 514.8 159.1 514.8 151.5 516.1 152.2 516.1 140.0 516.2 164.1 516.2 151.3 516.9 151.2 517.0 143.4 517.1 164.1 517.1 151.4 518.4 151.3 518.4 153.8 518.5 150.3 518.5 151.6 519.7 152.0 519.7 150.0 519.8 153.3 519.8 151.3 520.9 151.4 520.9 149.3 521.0 154.1 521.0 152.1 522.1 151.5 522.1 153.7 522.2 149.8 522.2 152.1 523.4 151.4 523.5 149.6 523.6 153.1 523.6 151.1 524.6 151.5 524.6 149.7 524.7 154.5 524.8 151.6 525.5 151.9 525.5 149.5 525.6 153.3 525.6 151.9 526.8 151.1 526.8 153.5 526.9 149.5 526.9 151.4 528.2 151.7 528.2 152.9 528.3 150.7 528.3 151.8 529.1 151.9 529.2 152.6 529.3 150.3 529.3 152.1 530.2 152.0 530.3 153.2 530.4 149.4 530.4 151.8 531.1 151.5 531.1 153.2 531.2 150.3 531.3 151.6 532.3 151.8 532.3 148.4 532.4 154.2 532.5 151.2 533.6 152.0 533.7 154.9 533.7 147.9 533.8 151.2 534.7 151.8 534.8 155.1 534.9 146.6 534.9 151.7 535.8 152.1 535.8 145.1 535.9 160.5 536.0 152.0 536.8 151.8 536.8 143.5 536.9 157.2 536.9 151.8 537.7 151.6 537.7 158.0 537.8 144.3 537.8 151.1 538.6 151.7 538.6 146.3 538.7 157.9 538.7 151.3 539.9 151.8 540.0 143.7 540.0 157.1 540.1 151.2 540.9 151.1 541.0 144.4 541.0 159.3 541.1 151.9 541.9 151.1 542.0 156.6 542.1 147.2 542.1 152.0 543.1 151.3 543.1 145.5 543.2 159.8 543.2 151.9 544.1 151.6 544.2 157.4 544.2 143.7 544.3 151.2 545.2 151.9 545.3 149.9 545.3 152.5 545.4 151.8 546.7 151.6 546.7 152.3 546.8 151.0 546.8 151.5 547.7 151.7 547.7 152.6 547.8 150.6 547.8 152.1 548.6 152.0 548.6 152.0 548.7 151.1 548.8 151.1 549.6 152.1 549.6 149.3 549.7 154.1 549.8 151.3 550.4 151.3 550.5 144.0 550.6 163.5 550.6 151.5 551.9 151.3 552.0 140.7 552.0 161.0 552.1 152.2 552.9 151.7 553.0 146.5 553.0 158.1 553.1 151.7 554.0 138.0 554.1 166.8 554.3 151.6 554.2 152.2 554.3 143.5 554.3 160.9 554.4 151.3 555.2 152.0 555.2 163.1 555.3 138.6 555.3 151.5 556.0 151.5 556.1 141.2 556.2 166.8 556.2 151.5 556.9 151.1 557.0 162.1 557.0 145.2 557.1 151.6 558.3 151.5 558.4 166.8 558.5 138.9 558.5 151.7 559.7 151.0 559.8 166.8 559.8 139.1 559.9 151.6 560.9 151.4 560.9 145.0 561.0 161.3 561.0 151.4 561.8 151.9 561.8 166.8 561.9 142.9 562.0 151.9 563.1 151.6 563.1 166.8 563.2 139.5 563.3 151.7 564.2 151.4 564.2 143.1 564.3 161.9 564.4 151.5 565.6 151.7 565.6 147.4 565.7 159.4 565.8 151.5 566.5 151.2 566.5 143.5 566.6 157.4 566.7 152.0 567.8 151.6 567.9 161.3 568.0 145.3 568.0 151.5 568.7 151.8 568.8 149.6 568.8 154.5 568.9 151.4 569.6 151.5 569.6 150.2 569.7 153.8 569.7 151.4 570.7 151.1 570.7 149.4 570.8 153.2 570.8 151.1 571.8 151.3 571.8 154.9 571.9 149.5 572.0 151.6 572.7 151.1 572.8 145.9 572.8 161.5 572.9 151.5 573.8 152.2 573.8 158.4 573.9 146.6 573.9 151.4 574.6 152.2 574.6 140.5 574.7 160.5 574.8 151.3 575.5 151.5 575.5 159.5 575.6 144.2 575.6 151.6 576.3 151.5 576.4 156.8 576.4 145.0 576.5 152.2 577.5 151.6 577.5 141.0 577.6 166.1 577.6 151.6 578.7 151.5 578.8 145.4 578.8 159.3 578.9 151.4 579.8 151.0 579.8 142.4 579.9 166.0 579.9 152.0 580.9 152.1 581.0 166.2 581.0 141.2 581.1 151.2 582.2 151.9 582.2 158.5 582.3 147.5 582.3 151.7 583.5 151.2 583.5 158.2 583.6 146.4 583.7 151.1 584.8 151.1 584.9 160.1 585.0 146.2 585.0 151.8 586.0 151.6 586.0 150.7 586.1 152.8 586.1 151.7 586.8 151.4 586.8 150.3 586.9 153.2 587.0 152.1 587.7 152.0 587.7 154.1 587.8 148.6 587.8 151.6 588.9 151.8 589.0 141.1 589.0 165.2 589.1 152.1 589.7 151.8 589.8 139.0 589.8 162.0 589.9 151.5 591.2 151.2 591.2 147.0 591.3 156.7 591.3 152.1 592.4 152.2 592.4 139.6 592.5 164.1 592.6 151.6 593.8 151.5 593.9 140.7 593.9 160.3 594.0 151.1 594.9 151.1 594.9 164.7 595.0 139.0 595.0 151.8 596.1 151.3 596.2 160.8 596.2 146.1 596.3 152.0 597.0 151.5 597.0 163.9 597.1 140.6 597.1 151.1 598.4 152.0 598.5 165.9 598.5 140.0 598.6 151.6 599.7 151.5 599.8 140.8 599.8 159.8 599.9 151.0 601.0 151.9 601.0 157.8 601.1 147.3 601.2 151.7 602.0 152.0 602.1 157.0 602.1 147.1 602.2 152.0 603.4 151.6 603.4 147.2 603.5 155.6 603.6 152.0 604.4 151.4 604.4 154.1 604.5 149.5 604.5 151.4 605.3 151.5 605.4 156.4 605.4 146.7 605.5 152.2 606.4 151.5 606.4 157.8 606.5 146.3 606.5 152.2 607.7 151.8 607.7 147.5 607.8 159.3 607.8 151.9 609.0 151.2 609.1 144.2 609.2 161.7 609.2 151.6 610.5 151.9 610.6 145.8 610.6 158.6 610.7 151.3 611.9 151.2 611.9 165.0 612.0 144.1 612.1 151.7 613.1 151.5 613.2 146.3 613.2 158.1 613.3 151.7 614.3 151.2 614.3 165.0 614.4 144.6 614.4 151.9 615.6 151.8 615.7 149.6 615.7 155.3 615.8 152.0 616.7 151.9 616.8 153.3 616.8 149.7 616.9 151.9 617.9 152.0 618.0 153.7 618.0 149.6 618.1 151.1 618.9 152.1 619.0 149.0 619.1 153.7 619.1 151.9 619.5 130.0 619.6 174.9 619.8 151.6 620.4 151.1 620.4 150.1 620.5 153.9 620.5 151.0 621.7 151.7 621.8 148.9 621.8 154.7 621.9 151.4 622.8 151.1 622.8 149.4 622.9 153.8 622.9 151.9 623.9 151.3 624.0 155.0 624.0 148.5 624.1 151.6 625.2 152.2 625.3 149.0 625.4 154.4 625.4 151.2 626.4 151.3 626.4 153.6 626.5 148.5 626.5 151.6 627.2 151.1 627.3 155.0 627.3 148.6 627.4 151.1 628.4 151.5 628.5 160.5 628.6 145.8 628.6 152.2 629.4 151.7 629.5 160.5 629.6 143.7 629.6 151.9 630.5 151.8 630.6 143.0 630.7 162.4 630.7 151.9 631.5 151.1 631.6 164.1 631.6 142.3 631.7 151.7 632.8 151.6 632.8 146.5 632.9 161.6 632.9 152.0 633.6 152.1 633.6 161.4 633.7 140.8 633.8 151.4 634.7 151.0 634.7 165.9 634.8 144.7 634.9 151.1 635.8 151.3 635.9 141.8 635.9 163.0 636.0 151.3 636.8 151.5 636.8 146.8 636.9 158.5 636.9 151.9 637.8 151.9 637.8 141.3 637.9 166.0 637.9 151.8 638.6 151.4 638.6 140.8 638.7 166.0 638.8 151.9 639.5 151.1 639.6 142.5 639.6 166.0 639.7 152.0 640.4 151.2 640.4 142.7 640.5 165.0 640.6 152.1 641.7 151.2 641.7 147.8 641.8 156.9 641.9 151.6 642.7 151.8 642.8 162.9 642.8 145.5 642.9 151.6 643.9 151.0 644.0 153.9 644.1 150.2 644.1 152.1 645.4 151.2 645.4 153.5 645.5 149.2 645.6 151.6 646.9 151.0 646.9 149.6 647.0 153.1 647.0 151.9 648.3 151.4 648.4 148.5 648.4 154.5 648.5 151.1 649.2 146.0 649.4 157.0 649.5 151.6 649.2 151.3 649.3 154.3 649.3 149.1 649.4 151.2 650.5 151.9 650.5 153.9 650.6 150.0 650.6 151.8 651.8 151.9 651.9 148.5 652.0 154.7 652.0 151.9 653.3 152.0 653.4 153.3 653.4 150.3 653.5 151.4 654.4 151.0 654.5 153.8 654.6 148.5 654.6 151.0 655.3 151.0 655.4 150.2 655.4 154.7 655.5 151.6 656.4 152.1 656.4 148.5 656.5 153.6 656.6 151.4 657.4 151.4 657.4 150.4 657.5 153.9 657.5 152.1 658.4 151.1 658.5 153.3 658.5 150.4 658.6 151.4 659.7 151.9 659.8 155.0 659.8 150.0 659.9 151.2 660.8 145.3 660.9 160.5 661.1 151.6 661.0 151.8 661.0 153.5 661.1 148.8 661.1 152.0 662.2 151.3 662.3 153.8 662.3 149.6 662.4 151.3 663.1 151.3 663.1 148.6 663.2 154.6 663.2 152.1 664.5 151.8 664.6 153.8 664.6 149.3 664.7 151.4 665.9 151.8 665.9 146.8 666.0 157.2 666.1 152.2 666.7 151.6 666.8 155.7 666.8 149.3 666.9 151.2 667.6 151.4 667.6 154.1 667.7 150.1 667.8 151.4 668.6 152.1 668.6 148.5 668.7 157.3 668.8 151.6 669.8 151.0 669.9 148.8 670.0 156.6 670.0 151.6" fill="none" stroke="#0072BD" stroke-width="0.75" stroke-linejoin="round"/>
<path d="M256.5 152.2L256.6 150.5 256.6 152.8 256.7 151.7 257.7 151.5 257.8 152.8 257.9 150.5 257.9 151.9 259.0 151.2 259.1 152.4 259.2 150.7 259.2 151.8 260.1 151.5 260.2 152.7 260.2 150.5 260.3 151.7 261.2 151.8 261.3 152.8 261.3 150.5 261.4 151.5 262.0 151.4 262.1 152.8 262.2 151.0 262.2 151.9 263.0 151.7 263.0 150.7 263.1 152.4 263.1 152.1 264.1 151.6 264.1 152.0 264.2 151.2 264.2 151.1 265.1 152.1 265.2 152.8 265.2 150.5 265.3 151.7 265.6 140.8 265.8 163.2 265.9 151.6 266.1 152.0 266.1 152.5 266.2 150.9 266.2 151.9 267.2 151.3 267.2 152.4 267.3 150.9 267.4 152.2 268.1 151.3 268.2 152.5 268.2 150.8 268.3 151.3 269.5 151.5 269.6 150.7 269.6 152.4 269.7 151.4 270.5 152.0 270.5 152.5 270.6 150.9 270.6 151.9 271.4 151.1 271.4 152.1 271.5 150.9 271.5 151.2 272.3 152.1 272.3 150.6 272.4 152.2 272.5 151.7 273.4 152.0 273.5 152.1 273.5 150.9 273.6 151.5 274.9 151.1 274.9 152.1 275.0 151.2 275.1 151.6 276.2 151.3 276.3 151.1 276.4 152.6 276.4 151.2 277.5 151.4 277.5 152.2 277.6 150.9 277.6 151.2 278.4 151.8 278.5 152.8 278.5 150.6 278.6 151.2 279.9 151.9 279.9 151.9 280.0 151.3 280.0 152.1 281.3 152.1 281.4 152.7 281.5 150.5 281.5 151.2 282.5 151.9 282.6 152.1 282.6 151.3 282.7 151.9 283.4 151.6 283.5 149.5 283.5 153.7 283.6 151.1" fill="none" stroke="#FF0000" stroke-width="0.75" stroke-linejoin="round"/>
<path d="M118.0 243.3L118.0 243.5 118.0 245.7 118.1 241.0 118.2 242.6 118.6 244.1 118.7 239.7 118.7 247.3 118.8 243.8 119.4 243.9 119.5 247.8 119.6 240.4 119.6 243.7 120.4 243.0 120.4 241.6 120.5 245.1 120.5 243.9 121.2 244.0 121.3 238.7 121.3 248.3 121.4 243.8 122.0 242.7 122.1 238.7 122.2 247.2 122.2 244.0 122.9 243.1 122.9 240.2 123.0 247.4 123.0 243.4 123.7 243.9 123.8 248.6 123.9 238.7 123.9 243.6 124.4 243.4 124.5 248.6 124.5 238.7 124.6 242.8 125.4 243.9 125.5 246.1 125.6 240.4 125.6 242.6 126.4 243.7 126.5 245.8 126.6 241.3 126.6 242.6 127.4 243.9 127.4 244.3 127.5 242.1 127.5 243.3 128.5 242.6 128.5 241.9 128.6 245.3 128.6 243.2 129.4 243.0 129.4 244.8 129.5 242.4 129.5 243.9 130.2 243.5 130.2 245.1 130.3 241.5 130.3 243.5 131.2 242.9 131.3 241.5 131.3 245.3 131.4 244.1 132.1 243.4 132.1 241.9 132.2 245.0 132.3 243.5 133.0 243.6 133.1 242.4 133.1 244.1 133.2 243.6 134.0 244.0 134.0 242.8 134.1 244.0 134.1 243.2 134.9 243.1 134.9 244.5 135.0 241.9 135.0 243.0 135.7 243.7 135.7 241.4 135.8 245.9 135.8 242.9 136.7 243.6 136.7 241.9 136.8 244.9 136.8 243.0 137.4 242.8 137.5 240.0 137.6 247.1 137.6 243.5 138.5 243.3 138.5 240.9 138.6 245.5 138.6 243.8 139.5 243.5 139.6 245.9 139.6 241.5 139.7 243.1 140.2 243.1 140.2 240.1 140.3 245.7 140.3 243.2 141.0 244.0 141.0 247.1 141.1 239.1 141.1 244.1 141.8 243.7 141.8 247.9 141.9 237.7 142.0 243.6 142.6 242.6 142.7 245.9 142.8 240.5 142.8 243.0 143.7 244.0 143.7 245.2 143.8 241.2 143.8 243.9 144.5 243.0 144.6 244.4 144.7 241.6 144.7 243.3 145.3 242.9 145.4 248.3 145.5 237.2 145.5 243.3 146.3 243.8 146.4 240.4 146.5 246.7 146.5 243.8 147.4 243.5 147.5 246.9 147.5 237.2 147.6 242.6 148.1 243.3 148.2 246.2 148.3 240.1 148.3 242.5 148.8 244.1 148.8 245.0 148.9 241.5 148.9 242.6 149.6 243.5 149.7 246.3 149.7 240.3 149.8 243.1 150.3 243.6 150.4 240.6 150.4 246.7 150.5 242.6 151.0 243.1 151.0 247.4 151.1 239.4 151.2 243.5 151.8 243.2 151.9 247.3 151.9 239.6 152.0 243.2 152.5 243.2 152.6 238.4 152.6 246.4 152.7 243.9 153.6 242.9 153.6 238.7 153.7 247.5 153.8 242.7 154.6 243.6 154.7 248.9 154.7 237.2 154.8 243.4 155.3 243.7 155.3 240.0 155.4 246.8 155.4 242.6 155.9 243.8 156.0 238.6 156.0 247.3 156.1 243.9 156.8 243.8 156.9 237.1 157.0 249.0 157.0 243.7 157.7 244.0 157.7 239.3 157.8 249.1 157.9 243.0 158.6 242.9 158.6 247.7 158.7 238.6 158.7 243.7 159.4 243.2 159.4 239.8 159.5 246.6 159.5 243.3 160.5 243.6 160.5 246.4 160.6 238.8 160.6 243.6 161.3 242.7 161.4 238.7 161.4 248.5 161.5 243.7 162.4 242.8 162.4 239.0 162.5 248.2 162.6 242.8 163.3 244.0 163.3 240.4 163.4 247.1 163.4 243.6 164.1 242.8 164.1 237.2 164.2 248.2 164.3 243.3 164.9 243.7 164.9 240.8 165.0 245.7 165.0 244.1 165.7 243.8 165.8 249.4 165.8 238.3 165.9 243.3 166.7 244.0 166.7 237.3 166.8 250.2 166.8 242.9 167.4 243.9 167.4 236.9 167.5 250.2 167.6 242.8 168.1 243.9 168.2 239.8 168.2 247.0 168.3 243.9 168.9 242.6 168.9 246.6 169.0 238.3 169.0 243.0 169.7 243.0 169.7 237.6 169.8 246.9 169.8 243.3 170.4 243.4 170.4 236.7 170.5 248.1 170.5 242.9 171.3 242.7 171.3 246.5 171.4 240.1 171.5 243.1 172.3 243.5 172.3 249.8 172.4 238.0 172.4 242.9 173.3 242.7 173.3 236.3 173.4 250.1 173.4 243.1 174.2 243.5 174.3 247.8 174.3 237.4 174.4 242.8 175.3 242.7 175.3 239.0 175.4 250.1 175.4 243.7 176.2 243.0 176.2 237.7 176.3 248.2 176.3 242.6 177.1 243.1 177.2 237.1 177.2 250.0 177.3 243.1 178.2 243.7 178.2 241.3 178.3 245.0 178.3 243.0 179.0 243.9 179.0 237.4 179.1 247.8 179.1 242.9 179.6 242.8 179.7 240.2 179.7 246.2 179.8 243.2 180.6 242.7 180.6 236.2 180.7 249.7 180.8 242.8 181.5 243.8 181.5 239.0 181.6 247.6 181.6 243.8 182.5 243.4 182.6 250.1 182.6 236.9 182.7 244.1 183.4 243.5 183.5 247.0 183.6 238.6 183.6 242.5 184.4 243.2 184.5 237.6 184.6 248.8 184.6 243.3 185.0 243.4 185.1 247.8 185.2 237.9 185.2 243.9 185.7 243.1 185.8 236.5 185.8 247.7 185.9 242.6 186.6 243.6 186.6 237.1 186.7 250.1 186.8 243.9 187.5 243.0 187.5 250.1 187.6 236.1 187.7 244.0 188.5 242.7 188.6 237.9 188.6 247.6 188.7 242.6 189.2 243.4 189.3 240.3 189.3 246.5 189.4 243.5 190.0 242.8 190.0 247.5 190.1 237.7 190.1 243.7 190.7 242.9 190.8 238.9 190.9 247.6 190.9 242.8 191.7 242.8 191.8 240.4 191.9 245.5 191.9 243.1 192.4 243.3 192.5 241.8 192.5 244.7 192.6 242.5 193.2 243.1 193.3 238.2 193.4 246.4 193.4 242.5 194.3 242.8 194.4 246.5 194.5 240.7 194.5 243.1 195.0 243.8 195.0 240.8 195.1 245.0 195.2 244.0 195.7 243.5 195.8 240.2 195.9 247.3 195.9 242.6 196.7 242.5 196.7 236.0 196.8 247.9 196.9 242.8 197.3 242.8 197.3 245.7 197.4 241.1 197.5 243.3 198.3 243.0 198.4 246.9 198.4 238.6 198.5 244.0 198.9 243.1 199.0 240.2 199.1 245.5 199.1 243.6 200.0 243.8 200.1 245.9 200.1 241.0 200.2 244.0 200.8 243.3 200.8 240.8 200.9 247.1 201.0 242.8 201.8 243.3 201.8 239.3 201.9 247.0 201.9 243.6 202.4 242.7 202.4 239.7 202.5 247.2 202.5 243.8 203.3 243.9 203.3 248.0 203.4 238.6 203.5 243.0 204.1 242.7 204.1 245.5 204.2 241.9 204.2 242.7 204.7 242.7 204.8 246.3 204.8 240.2 204.9 243.4 205.3 243.4 205.4 240.4 205.4 245.4 205.5 243.7 206.2 242.8 206.3 239.1 206.3 247.0 206.4 243.8 206.9 243.9 206.9 241.8 207.0 244.4 207.0 243.2 207.6 243.7 207.6 248.4 207.7 238.8 207.7 243.1 208.5 243.5 208.5 247.4 208.6 241.0 208.6 242.8 209.3 243.1 209.4 239.8 209.5 245.9 209.5 242.6 210.2 243.5 210.3 239.6 210.3 248.1 210.4 243.1 211.3 242.8 211.4 240.8 211.4 245.6 211.5 244.0 212.3 244.0 212.3 248.5 212.4 238.7 212.5 243.2 213.4 243.7 213.4 238.7 213.5 248.2 213.5 244.1 214.4 242.7 214.5 245.6 214.5 240.2 214.6 243.0 215.3 242.9 215.3 240.7 215.4 248.0 215.5 243.1 216.3 243.0 216.3 239.9 216.4 246.7 216.4 242.6 216.9 244.1 217.0 248.6 217.1 238.9 217.1 243.1 217.6 243.4 217.7 240.8 217.7 246.3 217.8 243.9 218.4 243.0 218.4 239.6 218.5 247.5 218.5 243.8 219.0 242.8 219.0 241.5 219.1 245.4 219.1 242.8 219.9 244.1 220.0 239.4 220.1 247.4 220.1 242.8 220.5 243.4 220.6 240.7 220.7 245.8 220.7 243.0 221.3 242.6 221.3 239.5 221.4 247.3 221.4 243.5 222.2 242.7 222.3 247.6 222.3 238.8 222.4 243.8 223.1 242.8 223.1 239.1 223.2 247.4 223.2 243.5 224.1 244.0 224.2 248.6 224.2 239.1 224.3 243.5 224.9 243.6 225.0 246.3 225.0 240.8 225.1 243.4 225.7 243.2 225.8 248.2 225.8 240.2 225.9 242.7 226.5 243.8 226.5 249.9 226.6 239.4 226.6 243.5 227.1 242.9 227.1 249.0 227.2 238.8 227.3 244.0 227.7 243.9 227.8 249.6 227.9 239.0 227.9 243.5 228.4 243.8 228.5 238.8 228.5 250.2 228.6 242.9 229.5 243.0 229.6 238.3 229.6 250.4 229.7 242.9 230.6 242.6 230.7 245.5 230.7 241.7 230.8 243.7 231.6 243.0 231.7 247.6 231.7 237.9 231.8 242.6 232.4 242.6 232.4 239.9 232.5 248.8 232.5 244.0 233.0 243.6 233.1 251.2 233.1 238.9 233.2 242.7 233.6 243.8 233.7 248.9 233.8 239.3 233.8 242.6 234.7 243.1 234.8 247.7 234.9 239.5 234.9 242.9 235.4 244.0 235.4 241.5 235.5 246.2 235.6 242.8 236.5 243.1 236.5 249.9 236.6 237.7 236.6 243.3 237.4 243.7 237.5 247.1 237.5 241.1 237.6 243.4 238.3 243.8 238.3 239.4 238.4 248.8 238.4 243.5 239.3 243.8 239.4 239.2 239.4 250.6 239.5 242.9 240.0 243.9 240.1 241.2 240.1 245.4 240.2 242.5 241.1 243.3 241.1 250.3 241.2 237.8 241.2 242.6 241.9 243.0 242.0 248.2 242.1 240.5 242.1 243.1 242.7 244.0 242.7 248.6 242.8 239.9 242.9 243.8 243.4 243.3 243.5 248.6 243.5 238.8 243.6 243.0 244.4 243.3 244.4 246.9 244.5 239.7 244.5 243.9 245.5 242.6 245.5 239.7 245.6 248.5 245.6 243.9 246.4 244.1 246.5 241.3 246.6 245.3 246.6 242.8 247.3 243.6 247.4 238.7 247.4 250.0 247.5 243.0 248.2 243.9 248.2 247.8 248.3 240.4 248.3 242.7 248.9 242.6 248.9 240.0 249.0 246.4 249.0 243.0 249.5 243.7 249.5 248.1 249.6 238.7 249.7 243.8 250.5 243.9 250.6 239.7 250.7 246.6 250.7 243.3 251.6 243.5 251.6 241.1 251.7 247.4 251.8 242.5 252.4 242.9 252.4 242.0 252.5 244.5 252.5 243.3 253.2 242.7 253.2 248.1 253.3 239.1 253.4 243.6 253.8 242.6 253.9 239.6 253.9 248.6 254.0 243.3 254.6 243.2 254.7 248.6 254.8 238.5 254.8 243.9 255.3 242.5 255.4 247.4 255.5 241.1 255.5 243.3 256.2 243.9 256.3 243.8" fill="none" stroke="#0072BD" stroke-width="0.8" stroke-linejoin="round"/>
<path d="M283.4 243.2L283.4 244.3 283.5 242.5 283.5 243.0 284.1 242.9 284.1 242.4 284.2 244.0 284.2 242.7 284.8 243.0 284.9 242.5 285.0 244.2 285.0 242.5 285.6 243.7 285.7 243.7 285.7 242.8 285.8 243.6 286.6 242.6 286.6 244.0 286.7 242.6 286.7 243.3 287.2 243.2 287.3 242.2 287.3 244.4 287.4 244.1 287.9 243.3 287.9 242.4 288.0 243.8 288.1 242.9 289.0 242.5 289.0 244.0 289.1 242.8 289.1 243.9 290.0 243.3 290.1 242.9 290.1 243.6 290.2 243.0 290.7 242.6 290.7 244.4 290.8 242.7 290.9 242.8 291.3 243.3 291.4 244.4 291.4 242.3 291.5 242.6 292.3 242.6 292.3 243.8 292.4 242.3 292.4 244.0 293.1 243.2 293.1 244.2 293.2 242.4 293.2 242.5 293.8 242.9 293.9 242.5 293.9 244.2 294.0 243.5 294.8 243.0 294.8 242.2 294.9 244.2 295.0 242.9 295.7 242.7 295.7 242.6 295.8 244.0 295.9 243.3 296.4 243.2 296.5 242.2 296.5 244.2 296.6 243.7 297.4 242.9 297.4 242.6 297.5 243.9 297.6 242.8 298.3 243.7 298.3 242.3 298.4 244.0 298.5 243.1 299.1 243.5 299.2 244.0 299.3 242.7 299.3 244.0 299.8 244.1 299.9 242.2 300.0 244.4 300.0 243.7 300.9 243.0 300.9 243.8 301.0 242.9 301.1 244.0 301.7 243.2 301.8 242.9 301.8 243.8 301.9 243.2 302.8 243.0 302.8 242.9 302.9 244.0 303.0 244.1 303.5 242.9 303.6 243.6 303.6 242.8 303.7 242.9 304.6 243.4 304.6 243.8 304.7 242.7 304.7 243.1 305.4 243.7 305.5 244.1 305.5 242.6 305.6 242.6 306.2 243.9 306.2 244.0 306.3 242.9 306.3 243.4 306.8 242.9 306.9 242.8 306.9 244.2 307.0 244.0 307.5 242.7 307.6 244.4 307.6 242.4 307.7 243.1 308.3 242.7 308.3 244.0 308.4 242.4 308.4 242.5 309.3 242.7 309.4 242.8 309.4 243.9 309.5 243.4 310.1 243.7 310.2 242.8 310.2 243.9 310.3 243.7 311.0 243.3 311.0 242.9 311.1 243.9 311.1 243.3 312.0 242.5 312.0 244.2 312.1 242.2 312.2 243.3 312.8 242.8 312.9 244.6 313.0 242.1 313.0 242.7 313.9 242.6 313.9 243.9 314.0 242.3 314.0 243.8 314.9 243.1 314.9 241.4 315.0 244.5 315.1 243.7 315.7 243.6 315.8 245.0 315.8 241.4 315.9 243.4 316.4 243.8 316.4 242.0 316.5 244.5 316.5 243.6 317.0 243.3 317.0 243.9 317.1 242.3 317.1 242.8 317.9 243.6 318.0 241.6 318.0 245.0 318.1 242.8 318.8 242.7 318.8 245.0 318.9 241.7 319.0 243.2 319.6 243.8 319.7 244.9 319.8 242.1 319.8 243.0 320.4 243.1 320.4 244.0 320.5 242.3 320.5 243.6 321.1 243.0 321.2 242.0 321.2 244.4 321.3 244.0 322.1 243.2 322.1 241.0 322.2 246.2 322.3 242.7 322.9 243.5 322.9 240.4 323.0 247.1 323.0 243.6 323.8 243.3 323.8 246.3 323.9 240.2 323.9 242.8 324.8 243.3 324.8 240.7 324.9 244.9 324.9 243.6 325.5 243.4 325.5 241.7 325.6 245.3 325.6 242.8 326.2 243.0 326.2 247.1 326.3 239.5 326.3 243.8 327.1 242.6 327.1 244.1 327.2 242.5 327.3 243.0 327.8 243.9 327.9 246.2 328.0 240.1 328.0 243.0 328.5 243.1 328.5 240.7 328.6 246.1 328.6 242.6 329.1 242.9 329.2 244.7 329.3 241.6 329.3 243.5 329.8 242.7 329.8 240.5 329.9 247.0 329.9 242.9 330.8 243.2 330.9 245.9 330.9 239.7 331.0 242.6 331.9 243.5 331.9 247.0 332.0 239.5 332.0 242.9 332.6 242.7 332.7 244.8 332.7 242.2 332.8 243.1 333.7 242.6 333.7 240.5 333.8 246.1 333.8 243.1 334.5 244.0 334.5 245.5 334.6 240.9 334.6 243.1 335.3 243.1 335.4 244.8 335.4 241.3 335.5 242.9 336.4 242.8 336.4 243.6 336.5 243.0 336.5 243.3 337.5 243.9 337.5 242.2 337.6 244.4 337.6 243.8 338.5 242.8 338.5 244.3 338.6 242.2 338.6 242.8 339.5 243.0 339.5 244.0 339.6 242.3 339.6 243.6 340.2 243.3 340.3 242.5 340.4 244.2 340.4 244.1 341.3 243.7 341.3 244.1 341.4 242.5 341.5 243.5 342.0 243.4 342.0 242.4 342.1 244.2 342.2 243.5 343.0 244.0 343.0 244.4 343.1 242.5 343.1 243.4 344.0 243.4 344.1 242.9 344.1 243.6 344.2 243.5 344.7 243.8 344.7 242.6 344.8 244.3 344.8 243.7 345.5 243.7 345.5 244.3 345.6 242.7 345.6 242.6 346.5 242.6 346.5 243.0 346.6 243.6 346.6 243.9 347.4 243.9 347.4 242.6 347.5 243.9 347.6 242.6 348.5 242.7 348.5 243.7 348.6 243.0 348.6 243.9 349.4 243.4 349.4 244.1 349.5 242.6 349.5 243.0 350.2 242.8 350.2 242.2 350.3 244.1 350.3 243.8 350.9 244.1 350.9 242.7 351.0 243.7 351.0 243.9 351.9 242.9 351.9 242.7 352.0 243.8 352.1 243.6 352.8 243.2 352.8 242.6 352.9 243.8 352.9 243.1 353.8 243.5 353.9 242.7 353.9 244.0 354.0 243.9 354.4 243.1 354.5 242.2 354.6 244.4 354.6 242.8 355.4 243.9 355.4 243.6 355.5 243.1 355.5 243.8 356.0 241.5 356.1 245.0 356.3 243.3 356.2 243.2 356.3 242.2 356.3 244.4 356.4 242.6 357.0 243.4 357.0 244.3 357.1 242.7 357.1 243.9 357.7 242.7 357.7 244.2 357.8 242.2 357.8 243.9 358.7 242.9 358.7 242.6 358.8 243.8 358.8 243.7 359.3 242.9 359.4 244.4 359.4 242.5 359.5 243.8 360.4 243.8 360.4 242.5 360.5 244.0 360.6 243.9 361.3 242.6 361.3 242.9 361.4 243.6 361.5 242.5 362.0 243.9 362.1 244.3 362.1 242.2 362.2 243.6 362.8 242.8 362.9 243.9 362.9 242.8 363.0 243.0 363.7 242.9 363.8 244.0 363.8 242.4 363.9 242.8 364.6 243.5 364.7 244.4 364.8 242.3 364.8 243.3 365.6 243.4 365.7 242.5 365.7 244.2 365.8 243.6 366.7 243.6 366.7 244.1 366.8 242.2 366.8 244.0 367.3 243.6 367.3 243.8 367.4 242.7 367.4 243.1 368.1 243.8 368.1 242.2 368.2 244.2 368.3 243.6 369.0 244.0 369.0 244.0 369.1 242.2 369.2 242.9 369.8 243.6 369.9 243.8 369.9 243.0 370.0 242.8 370.5 243.0 370.5 244.1 370.6 242.6 370.6 243.4 371.2 242.8 371.3 242.6 371.3 244.4 371.4 243.3 372.1 243.8 372.1 242.5 372.2 244.4 372.2 242.5 373.2 243.6 373.2 242.8 373.3 243.9 373.3 243.1 374.1 243.8 374.2 244.2 374.2 242.6 374.3 243.5 374.9 243.3 374.9 244.2 375.0 242.3 375.0 242.8 375.8 244.1 375.9 242.5 375.9 244.3 376.0 243.8 376.7 243.9 376.8 242.9 376.8 243.6 376.9 244.0 377.8 243.7 377.8 242.9 377.9 243.7 377.9 242.6 378.4 243.2 378.5 244.2 378.5 242.4 378.6 243.2 379.5 242.9 379.5 242.6 379.6 244.1 379.7 243.8 380.2 243.0 380.3 242.1 380.4 244.3 380.4 243.9 381.1 243.9 381.1 242.8 381.2 243.9 381.2 243.4 382.0 242.8 382.0 244.1 382.1 242.5 382.2 243.9 382.9 242.8 382.9 243.8 383.0 242.6 383.0 243.8 383.8 243.0 383.8 243.6 383.9 242.7 383.9 243.8 384.7 242.5 384.8 243.7 384.9 242.8 384.9 244.0 385.4 243.0 385.4 244.0 385.5 242.4 385.5 243.2 386.0 241.5 386.1 245.0 386.3 243.3 386.5 242.8 386.5 244.5 386.6 242.1 386.6 243.4 387.3 244.0 387.3 242.5 387.4 244.0 387.5 242.7 388.4 242.7 388.4 242.4 388.5 244.0 388.6 243.8 389.1 242.8 389.2 242.3 389.2 244.5 389.3 242.7 389.8 242.8 389.8 242.5 389.9 244.1 390.0 243.0 390.8 243.4 390.9 242.9 391.0 243.8 391.0 244.1 391.5 243.9 391.5 243.0 391.6 243.7 391.7 243.0 392.5 242.6 392.6 243.7 392.6 243.0 392.7 242.7 393.4 243.5 393.5 244.2 393.5 242.3 393.6 242.6 394.1 243.6 394.2 242.6 394.2 243.9 394.3 243.9 394.9 242.8 394.9 243.7 395.0 242.9 395.1 243.2 395.7 242.9 395.8 242.1 395.8 244.5 395.9 243.3 396.4 243.7 396.5 243.9 396.6 242.7 396.6 243.2 397.3 243.8 397.3 242.3 397.4 243.9 397.4 243.0 398.4 243.2 398.4 242.4 398.5 244.0 398.5 243.1 399.0 243.3 399.1 242.6 399.1 244.3 399.2 243.8 399.8 243.2 399.9 243.6 400.0 243.0 400.0 244.0 400.8 243.1 400.8 243.7 400.9 242.9 400.9 242.5 401.6 243.1 401.7 244.2 401.7 242.5 401.8 242.9 402.4 243.3 402.5 242.6 402.5 244.2 402.6 242.9 403.4 243.3 403.5 242.7 403.6 243.9 403.6 243.1 404.2 242.6 404.3 243.9 404.3 242.7 404.4 243.0 405.3 243.1 405.3 242.4 405.4 244.5 405.5 243.9 406.4 243.4 406.4 244.5 406.5 242.2 406.5 243.5 407.4 243.4 407.4 244.2 407.5 242.3 407.6 243.1 408.4 243.6 408.5 242.1 408.5 244.4 408.6 243.8 409.1 242.8 409.1 244.3 409.2 242.1 409.3 243.2 410.0 243.2 410.1 243.7 410.2 242.8 410.2 243.5 410.9 242.9 410.9 243.8 411.0 242.7 411.0 242.7 411.5 243.4 411.5 244.4 411.6 242.3 411.7 243.0 412.5 243.5 412.5 243.0 412.6 243.5 412.7 243.7 413.3 243.7 413.3 242.5 413.4 244.4 413.4 243.7 414.3 244.0 414.4 242.8 414.5 244.0 414.5 243.7 415.4 243.8 415.5 243.8 415.5 242.6 415.6 243.3 416.1 242.6 416.1 242.2 416.2 244.1 416.2 242.9 417.2 242.7 417.2 242.1 417.3 244.5 417.3 244.0 418.2 243.7 418.3 244.5 418.3 242.1 418.4 243.2 418.8 243.4 418.9 242.8 418.9 243.9 419.0 242.9 419.5 244.0 419.5 242.6 419.6 244.0 419.6 242.9 420.1 243.8 420.1 242.1 420.2 244.5 420.3 243.9 420.9 243.0 420.9 241.8 421.0 245.0 421.0 242.9 421.8 243.4 421.9 241.4 421.9 245.3 422.0 243.4 422.8 243.9 422.9 245.6 423.0 239.9 423.0 243.3 423.5 243.7 423.5 244.7 423.6 241.8 423.6 243.4 424.1 243.5 424.2 245.4 424.2 239.7 424.3 243.5 424.9 243.9 424.9 241.2 425.0 245.4 425.1 243.7 425.5 238.1 425.6 249.0 425.8 243.3 425.9 242.8 425.9 240.7 426.0 245.2 426.1 243.7 426.9 242.8 426.9 244.2 427.0 242.5 427.0 242.8 427.8 243.2 427.8 246.2 427.9 240.9 427.9 243.6 428.6 243.4 428.6 241.2 428.7 245.0 428.7 243.5 429.3 242.7 429.4 244.7 429.4 242.1 429.5 243.1 430.4 243.9 430.5 245.7 430.5 240.5 430.6 243.8 431.3 243.8 431.4 240.2 431.4 246.2 431.5 243.8 432.4 243.5 432.4 241.4 432.5 245.3 432.6 244.0 433.3 243.6 433.4 246.1 433.4 240.9 433.5 243.9 434.0 242.6 434.1 240.0 434.2 245.1 434.2 243.7 434.8 242.6 434.9 246.6 434.9 239.6 435.0 243.8 435.8 243.9 435.8 246.7 435.9 239.6 435.9 242.7 436.5 243.9 436.5 246.5 436.6 240.1 436.7 243.8 437.3 242.8 437.4 245.3 437.5 241.4 437.5 243.3 438.0 242.5 438.0 241.1 438.1 245.8 438.1 242.7 439.0 243.0 439.1 245.3 439.2 240.7 439.2 242.9 439.9 242.6 439.9 239.6 440.0 246.3 440.1 244.0 440.9 243.7 441.0 241.6 441.0 245.1 441.1 243.9 441.7 243.3 441.7 245.7 441.8 239.9 441.8 242.9 442.5 242.8 442.6 245.6 442.6 239.6 442.7 243.5 443.4 243.3 443.4 240.4 443.5 246.6 443.5 243.2 444.2 244.1 444.2 240.7 444.3 246.0 444.4 243.1 445.3 244.0 445.3 244.2 445.4 242.4 445.4 243.2 445.9 244.0 446.0 246.8 446.0 239.6 446.1 243.0 446.6 242.6 446.7 241.7 446.7 245.1 446.8 243.9 447.6 243.4 447.7 246.3 447.8 240.3 447.8 243.0 448.5 242.5 448.5 240.1 448.6 245.6 448.7 243.9 449.2 243.5 449.2 241.1 449.3 245.6 449.3 243.2 450.1 242.9 450.1 245.2 450.2 241.4 450.2 243.7 451.0 243.6 451.0 241.9 451.1 244.9 451.1 243.5 451.9 243.4 452.0 244.4 452.0 241.8 452.1 243.5 452.6 243.2 452.7 244.9 452.7 242.2 452.8 243.9 453.7 243.3 453.8 242.2 453.8 244.2 453.9 243.9 454.4 243.0 454.5 241.9 454.5 244.7 454.6 243.4 455.2 243.1 455.2 248.2 455.3 238.8 455.4 243.7 456.2 243.6 456.2 241.0 456.3 246.8 456.3 243.6 456.8 242.7 456.8 248.2 456.9 238.8 457.0 243.8 457.5 242.5 457.5 240.5 457.6 246.4 457.6 243.9 458.4 243.9 458.4 246.7 458.5 238.8 458.5 243.5 459.1 242.9 459.2 245.3 459.2 241.4 459.3 243.5 459.8 243.6 459.9 245.7 460.0 241.3 460.0 243.9 460.8 243.0 460.9 239.9 460.9 246.8 461.0 243.1 461.8 242.6 461.8 247.6 461.9 239.9 462.0 243.2 462.8 242.8 462.8 248.2 462.9 240.3 462.9 244.1 463.5 243.7 463.5 246.6 463.6 241.4 463.7 243.8 464.3 243.2 464.3 247.1 464.4 239.7 464.4 243.0 465.1 243.2 465.2 246.9 465.3 239.4 465.3 243.2 466.1 243.2 466.2 244.6 466.2 242.0 466.3 243.5 467.0 242.9 467.1 247.4 467.1 238.8 467.2 242.9 467.9 242.9 468.0 241.9 468.0 245.2 468.1 243.7 468.6 243.4 468.7 238.8 468.7 248.2 468.8 242.9 469.2 244.0 469.3 246.9 469.4 239.7 469.4 243.4 470.3 243.6 470.4 246.9 470.4 240.1 470.5 242.9 471.0 243.6 471.1 241.0 471.2 247.4 471.2 243.4 471.9 243.2 472.0 245.3 472.0 241.8 472.1 242.9 473.0 243.1 473.1 239.6 473.2 246.2 473.2 243.2 473.7 243.0 473.8 245.3 473.8 241.3 473.9 242.7 474.6 242.7 474.6 248.5 474.7 238.9 474.8 242.9 475.0 238.0 475.1 249.8 475.3 243.3 475.7 242.7 475.7 239.8 475.8 247.5 475.8 243.8 476.7 243.8 476.7 245.7 476.8 241.3 476.9 243.1 477.6 244.1 477.7 247.3 477.7 241.1 477.8 243.9 478.4 243.6 478.5 241.5 478.6 246.2 478.6 242.6 479.1 243.9 479.2 241.0 479.3 245.3 479.3 242.9 479.8 243.0 479.9 244.9 480.0 241.4 480.0 243.2 480.9 243.1 480.9 240.4 481.0 245.8 481.1 244.1 482.0 243.9 482.0 245.0 482.1 241.1 482.1 243.2 482.6 242.9 482.7 245.1 482.8 241.1 482.8 243.3 483.2 243.1 483.3 242.4 483.4 244.4 483.4 242.9 483.9 243.0 484.0 241.2 484.1 246.5 484.1 242.5 484.8 243.4 484.8 240.9 484.9 245.8 485.0 244.0 485.5 243.5 485.6 242.2 485.6 244.9 485.7 242.9 486.1 242.9 486.2 245.1 486.2 240.8 486.3 243.6 486.8 243.0 486.8 246.5 486.9 240.4 486.9 243.2 487.7 242.7 487.7 240.4 487.8 245.8 487.9 242.7 488.7 243.3 488.8 241.3 488.9 245.4 488.9 243.7 489.5 243.7 489.6 240.4 489.7 246.5 489.7 243.2 490.6 243.8 490.6 241.6 490.7 244.8 490.7 243.1 491.6 243.2 491.6 242.6 491.7 244.3 491.8 243.1 492.6 242.6 492.6 240.5 492.7 246.4 492.7 243.2 493.2 243.6 493.2 241.2 493.3 246.4 493.3 243.0 494.0 242.9 494.1 242.4 494.1 244.7 494.2 243.8 495.0 242.9 495.0 242.0 495.1 245.6 495.1 243.7 496.0 243.3 496.1 241.8 496.2 245.3 496.2 242.7 496.6 243.5 496.7 240.5 496.8 245.7 496.8 243.7 497.4 243.4 497.5 245.2 497.5 241.0 497.6 242.6 498.0 243.2 498.1 245.4 498.2 241.7 498.2 243.6 498.8 243.3 498.8 245.3 498.9 241.1 498.9 242.7 499.6 242.9 499.7 241.3 499.7 245.8 499.8 243.2 500.3 243.2 500.3 240.6 500.4 246.1 500.4 243.2 501.0 242.8 501.1 244.8 501.2 241.5 501.2 242.5 501.8 242.6 501.9 245.3 501.9 240.9 502.0 242.5 502.6 242.9 502.7 240.9 502.7 245.3 502.8 243.1 503.3 242.9 503.3 246.2 503.4 240.8 503.5 244.0 504.0 244.0 504.1 241.3 504.1 245.8 504.2 244.0 504.8 242.6 504.8 241.4 504.9 245.0 505.0 243.4 505.6 243.9 505.6 242.5 505.7 244.0 505.7 242.8 506.4 242.9 506.4 245.6 506.5 241.1 506.5 242.9 507.2 243.7 507.2 242.9 507.3 244.0 507.3 243.5 507.8 243.2 507.8 241.2 507.9 245.7 507.9 243.8 508.5 242.9 508.6 242.7 508.7 244.3 508.7 243.4 509.2 243.2 509.2 244.5 509.3 241.7 509.4 243.9 510.2 242.7 510.3 244.0 510.3 242.5 510.4 242.7 511.3 243.5 511.4 243.9 511.4 242.9 511.5 243.8 512.0 243.5 512.0 245.5 512.1 241.7 512.1 242.7 513.0 243.8 513.1 242.4 513.2 244.4 513.2 243.3 513.9 243.6 514.0 244.3 514.1 242.5 514.1 242.8 514.9 242.6 514.9 244.8 515.0 241.3 515.0 243.6 515.6 243.1 515.7 245.2 515.7 241.5 515.8 243.1 516.4 243.0 516.4 242.0 516.5 244.7 516.6 242.9 517.4 243.2 517.4 242.5 517.5 244.7 517.5 243.7 518.2 243.9 518.3 241.4 518.4 245.3 518.4 243.8 519.1 242.6 519.1 244.9 519.2 242.1 519.2 242.8 520.0 243.2 520.0 241.5 520.1 245.2 520.1 244.1 520.7 243.4 520.8 245.0 520.8 241.7 520.9 243.7 521.6 243.9 521.7 242.5 521.7 243.9 521.8 243.1 522.5 243.0 522.6 242.0 522.6 244.5 522.7 243.7 523.4 243.4 523.4 244.7 523.5 242.1 523.5 243.1 524.4 244.0 524.4 242.6 524.5 244.0 524.5 243.0 525.2 243.1 525.2 244.3 525.3 241.9 525.4 242.7 525.9 242.8 525.9 244.1 526.0 242.6 526.0 243.1 526.7 242.8 526.7 242.3 526.8 243.9 526.8 243.5 527.3 243.0 527.4 242.6 527.5 243.8 527.5 244.0 527.9 243.4 528.0 242.8 528.1 243.7 528.1 244.1 528.8 243.7 528.9 243.9 528.9 242.8 529.0 243.6 529.7 244.0 529.7 244.4 529.8 242.3 529.8 243.3 530.7 243.7 530.7 241.7 530.8 245.0 530.8 243.1 531.5 242.9 531.6 244.2 531.7 242.6 531.7 242.5 532.3 244.0 532.3 241.9 532.4 245.3 532.5 242.7 533.4 242.5 533.4 244.7 533.5 241.3 533.5 243.6 534.2 243.2 534.2 244.5 534.3 242.2 534.4 243.2 535.0 242.8 535.0 244.6 535.1 242.1 535.1 243.5 535.7 242.7 535.7 242.2 535.8 244.0 535.8 243.8 536.5 243.3 536.5 242.9 536.6 243.8 536.6 243.9 537.4 242.5 537.5 244.3 537.5 242.2 537.6 242.9 538.3 243.1 538.4 241.4 538.5 245.0 538.5 242.6 539.1 243.6 539.2 242.3 539.3 244.8 539.3 242.6 540.1 242.9 540.2 244.8 540.2 241.6 540.3 243.4 540.9 242.6 540.9 244.8 541.0 241.5 541.1 242.9 541.6 243.9 541.6 243.9 541.7 242.5 541.7 243.8 542.3 244.0 542.3 241.0 542.4 245.5 542.4 243.1 543.3 243.4 543.4 242.4 543.4 244.2 543.5 244.0 543.9 243.8 544.0 244.8 544.0 241.7 544.1 243.9 545.0 243.3 545.1 242.2 545.1 244.3 545.2 242.9 545.9 244.1 545.9 242.6 546.0 243.8 546.0 243.3 546.6 243.5 546.7 244.3 546.8 242.4 546.8 243.1 547.5 242.9 547.5 243.8 547.6 242.5 547.6 242.9 548.1 242.9 548.2 240.8 548.2 245.3 548.3 243.0 548.8 244.0 548.8 245.7 548.9 240.2 549.0 243.1 549.7 244.0 549.7 242.0 549.8 244.8 549.8 243.2 550.7 243.7 550.7 244.1 550.8 242.0 550.8 243.9 551.6 243.0 551.7 241.4 551.8 244.8 551.8 243.3 552.5 243.9 552.5 239.3 552.6 245.5 552.6 243.6 553.3 242.9 553.3 240.2 553.4 245.3 553.4 242.8 554.3 242.8 554.4 238.9 554.4 247.1 554.5 242.6 555.4 243.1 555.4 245.9 555.5 239.0 555.5 243.9 556.2 243.9 556.2 245.7 556.3 240.3 556.3 243.2 556.8 243.2 556.9 238.9 556.9 247.5 557.0 243.7 557.5 242.5 557.5 239.8 557.6 246.8 557.6 243.5 558.1 243.3 558.2 242.2 558.2 244.3 558.3 243.7 559.1 243.0 559.1 246.8 559.2 239.7 559.2 243.6 559.8 243.9 559.8 247.1 559.9 240.7 559.9 243.6 560.7 243.0 560.7 245.6 560.8 241.3 560.9 243.9 561.8 242.5 561.8 246.1 561.9 240.4 561.9 242.7 562.4 243.0 562.5 240.3 562.5 245.4 562.6 243.4 563.1 244.1 563.1 242.0 563.2 244.8 563.2 243.7 564.0 243.0 564.0 245.9 564.1 239.2 564.2 243.5 565.0 243.8 565.1 244.3 565.1 242.0 565.2 243.1 565.9 243.5 565.9 244.5 566.0 241.9 566.1 243.7 566.7 243.9 566.8 245.8 566.8 241.1 566.9 242.8 567.5 243.5 567.5 245.9 567.6 241.0 567.6 243.2 568.1 243.5 568.2 244.4 568.3 242.2 568.3 242.9 568.7 244.1 568.8 243.5 568.9 243.1 568.9 242.9 569.4 243.0 569.4 243.1 569.5 243.5 569.6 242.9 570.3 242.9 570.4 243.8 570.4 243.0 570.5 243.0 571.3 243.0 571.3 243.6 571.4 243.1 571.4 242.8 571.9 243.3 572.0 241.7 572.0 244.5 572.1 243.1 572.9 243.7 572.9 246.5 573.0 239.9 573.1 243.3 573.8 243.9 573.8 240.7 573.9 245.7 574.0 242.6 574.8 243.7 574.9 239.8 575.0 246.7 575.0 243.9 575.7 242.9 575.8 241.3 575.9 245.2 575.9 243.0 576.7 242.5 576.7 247.2 576.8 239.4 576.8 243.4 577.6 243.8 577.7 240.8 577.8 245.6 577.8 243.8 578.7 243.3 578.7 246.4 578.8 240.5 578.9 244.0 579.5 243.5 579.6 240.9 579.7 247.2 579.7 242.5 580.6 242.9 580.6 239.7 580.7 246.5 580.7 244.0 581.5 243.9 581.5 244.1 581.6 242.4 581.6 244.0 582.3 243.1 582.3 241.7 582.4 245.2 582.5 243.0 583.3 243.0 583.3 240.0 583.4 247.2 583.4 243.8 583.9 243.2 583.9 244.6 584.0 241.6 584.1 243.9 584.7 243.2 584.7 240.6 584.8 247.2 584.8 242.5 585.3 244.1 585.4 241.5 585.4 245.9 585.5 243.7 586.2 243.8 586.3 239.8 586.3 246.3 586.4 243.6 587.1 243.5 587.1 241.8 587.2 245.6 587.2 243.3 588.1 243.9 588.1 247.1 588.2 240.8 588.3 243.6 589.0 242.8 589.1 245.8 589.2 240.5 589.2 243.2 589.7 242.7 589.7 246.8 589.8 240.3 589.8 243.4 590.7 243.1 590.7 247.5 590.8 239.3 590.8 242.9 591.4 242.7 591.5 240.5 591.5 246.7 591.6 242.5 592.2 242.8 592.3 245.2 592.4 240.9 592.4 242.8 593.3 244.1 593.3 241.0 593.4 246.8 593.4 243.4 594.1 243.1 594.2 246.5 594.3 239.2 594.3 243.2 595.0 243.9 595.0 241.2 595.1 245.6 595.2 243.2 595.9 243.5 595.9 239.2 596.0 246.1 596.0 243.4 596.9 243.6 596.9 246.9 597.0 240.7 597.1 243.4 597.6 242.7 597.7 245.8 597.8 240.0 597.8 243.5 598.3 244.1 598.3 239.6 598.4 245.8 598.4 243.3 599.2 243.5 599.3 245.1 599.3 241.6 599.4 243.9 600.3 244.0 600.4 245.4 600.4 240.8 600.5 243.0 601.3 243.9 601.4 244.8 601.4 242.1 601.5 243.8 602.3 242.6 602.4 245.9 602.4 241.1 602.5 242.6 603.1 243.4 603.2 245.9 603.2 240.5 603.3 242.8 604.0 243.0 604.0 245.9 604.1 240.9 604.1 242.8 605.0 243.7 605.1 244.3 605.2 242.5 605.2 243.1 606.0 242.9 606.1 242.1 606.1 244.4 606.2 242.8 606.9 243.0 606.9 245.4 607.0 241.4 607.0 242.5 607.9 244.1 607.9 240.5 608.0 245.9 608.0 242.7 608.7 243.2 608.8 240.7 608.8 245.8 608.9 243.9 609.4 242.9 609.4 246.3 609.5 241.4 609.5 243.0 610.3 243.3 610.3 245.4 610.4 240.5 610.4 242.9 611.3 243.7 611.4 244.8 611.5 241.8 611.5 243.4 612.4 242.8 612.5 241.4 612.5 245.0 612.6 243.2 613.2 242.9 613.3 240.8 613.4 245.1 613.4 242.8 614.1 243.7 614.1 241.2 614.2 245.1 614.2 243.9 615.0 242.5 615.0 245.1 615.1 242.2 615.1 243.4 615.9 243.4 616.0 243.7 616.0 242.7 616.1 243.5 616.6 243.8 616.6 242.8 616.7 244.0 616.8 243.4 617.4 243.1 617.4 242.6 617.5 244.3 617.5 243.5 618.1 243.1 618.1 242.9 618.2 243.8 618.2 243.0 619.0 242.6 619.0 242.7 619.1 243.9 619.1 243.8 619.0 239.8 619.1 248.6 619.3 243.3 619.7 243.2 619.7 244.4 619.8 242.4 619.8 242.5 620.3 243.9 620.4 244.7 620.5 241.5 620.5 244.1 621.0 243.3 621.0 241.5 621.1 245.0 621.1 244.1 622.0 243.2 622.1 241.7 622.2 244.8 622.2 242.9 622.7 243.0 622.8 244.2 622.9 242.3 622.9 243.8 623.6 242.6 623.7 241.0 623.8 244.9 623.8 243.4 624.8 242.9 624.8 244.0 624.9 242.6 624.9 243.9 625.4 242.7 625.4 245.3 625.5 241.5 625.6 242.5 626.0 242.8 626.1 244.7 626.1 242.0 626.2 243.2 626.9 244.0 626.9 241.6 627.0 244.3 627.0 243.9 627.7 242.9 627.7 245.3 627.8 241.8 627.8 243.6 628.7 243.8 628.8 239.6 628.8 246.6 628.9 243.8 629.8 243.1 629.8 245.6 629.9 242.1 630.0 243.8 630.9 243.7 630.9 239.7 631.0 247.6 631.0 244.0 631.7 242.6 631.7 239.6 631.8 247.9 631.8 244.0 632.5 243.3 632.5 239.8 632.6 248.0 632.7 243.0 633.4 243.4 633.5 244.8 633.5 241.1 633.6 243.7 634.1 242.7 634.1 241.6 634.2 245.0 634.3 243.6 634.7 243.9 634.7 240.4 634.8 245.6 634.9 242.8 635.3 243.8 635.4 248.2 635.4 239.6 635.5 242.7 636.1 243.2 636.2 244.6 636.3 241.9 636.3 244.1 637.0 242.8 637.1 240.2 637.2 247.0 637.2 244.0 638.1 243.9 638.2 239.4 638.3 247.1 638.3 243.5 638.9 243.9 639.0 247.6 639.1 239.8 639.1 244.1 639.6 243.9 639.6 241.5 639.7 245.3 639.8 242.6 640.4 243.9 640.5 240.9 640.6 246.3 640.6 243.4 641.1 243.6 641.2 240.1 641.2 248.4 641.3 243.4 641.8 243.2 641.8 244.4 641.9 242.2 642.0 244.0 642.5 243.0 642.6 240.2 642.6 246.4 642.7 243.8 643.3 243.0 643.3 241.2 643.4 246.1 643.5 242.8 644.1 243.0 644.1 242.0 644.2 244.6 644.3 242.9 644.9 242.6 645.0 243.8 645.1 242.7 645.1 243.2 645.6 243.5 645.7 242.5 645.7 244.2 645.8 242.6 646.4 242.9 646.4 242.7 646.5 243.9 646.6 244.0 647.5 243.7 647.5 242.0 647.6 244.4 647.6 243.6 648.5 243.1 648.5 244.4 648.6 242.0 648.7 243.9 649.2 242.8 649.3 242.9 649.3 243.8 649.4 242.8 650.0 242.5 650.0 243.7 650.1 242.6 650.1 243.1 650.9 244.0 651.0 242.8 651.1 243.8 651.1 243.2 651.7 242.8 651.7 244.5 651.8 242.4 651.8 244.1 652.5 243.1 652.6 244.6 652.7 242.4 652.7 243.6 653.3 243.7 653.3 242.4 653.4 244.4 653.4 242.6 654.3 242.8 654.3 243.9 654.4 242.6 654.5 243.1 655.0 244.1 655.1 242.0 655.1 244.4 655.2 243.8 655.9 243.6 656.0 242.7 656.0 243.9 656.1 243.2 656.8 243.9 656.9 242.7 657.0 244.1 657.0 242.9 657.9 242.8 658.0 243.8 658.0 242.6 658.1 243.9 658.7 243.6 658.8 243.8 658.9 242.8 658.9 243.0 659.6 244.0 659.6 242.0 659.7 244.5 659.7 244.1 660.5 243.2 660.5 243.9 660.6 242.5 660.7 243.8 661.4 242.6 661.4 244.4 661.5 242.0 661.6 242.6 662.2 242.6 662.3 242.8 662.3 243.8 662.4 243.1 663.1 243.1 663.2 242.0 663.3 244.2 663.3 242.8 664.2 243.4 664.2 243.9 664.3 242.6 664.4 242.7 665.0 243.5 665.1 244.0 665.2 242.8 665.2 244.1 666.0 243.9 666.0 244.6 666.1 242.0 666.2 243.7 666.7 243.1 666.8 243.8 666.9 242.5 666.9 243.0 667.6 242.6 667.6 242.5 667.7 244.2 667.8 243.9 668.4 242.8 668.5 244.6 668.5 242.2 668.6 243.3 669.4 242.6 669.5 244.6 669.5 242.4 669.6 243.8 670.1 244.0 670.2 242.4 670.3 244.2 670.3 243.4" fill="none" stroke="#0072BD" stroke-width="0.8" stroke-linejoin="round"/>
<path d="M256.2 243.9L256.3 243.8 256.3 242.9 256.4 243.0 257.3 243.0 257.4 243.9 257.4 242.6 257.5 242.7 258.2 244.0 258.2 244.1 258.3 242.7 258.4 243.7 258.9 242.8 258.9 243.5 259.0 243.0 259.1 242.8 259.9 243.1 259.9 242.6 260.0 244.2 260.1 242.8 260.5 243.8 260.6 242.7 260.6 244.1 260.7 243.1 261.3 243.6 261.4 243.0 261.4 243.6 261.5 242.7 262.0 243.6 262.1 242.7 262.1 243.8 262.2 243.6 262.9 243.4 263.0 243.7 263.0 242.8 263.1 243.5 263.7 243.3 263.8 243.6 263.9 243.0 263.9 242.9 264.8 244.1 264.8 242.7 264.9 244.2 265.0 244.1 265.4 241.6 265.5 245.2 265.7 243.3 265.6 243.7 265.7 243.7 265.8 242.9 265.8 242.7 266.5 243.9 266.5 242.5 266.6 244.1 266.7 243.3 267.4 243.7 267.4 243.9 267.5 242.6 267.6 243.0 268.4 243.8 268.5 244.2 268.6 242.4 268.6 243.0 269.0 243.3 269.1 244.0 269.2 242.5 269.2 242.9 270.0 243.4 270.0 242.7 270.1 243.8 270.2 243.7 270.7 243.4 270.7 242.8 270.8 243.8 270.8 242.6 271.5 242.7 271.6 243.6 271.6 242.9 271.7 244.0 272.6 242.9 272.6 242.7 272.7 243.8 272.7 244.0 273.2 242.9 273.3 244.1 273.3 242.4 273.4 242.8 274.1 244.1 274.1 243.8 274.2 242.8 274.3 243.7 275.1 242.9 275.2 242.9 275.3 243.7 275.3 244.1 275.9 242.9 276.0 244.2 276.0 242.7 276.1 243.1 276.9 243.2 277.0 244.2 277.1 242.5 277.1 242.9 277.8 242.8 277.9 243.8 277.9 242.7 278.0 242.8 278.8 243.7 278.9 242.5 278.9 244.1 279.0 242.6 279.7 242.8 279.7 243.9 279.8 242.4 279.9 243.7 280.5 243.6 280.6 244.1 280.6 242.7 280.7 242.8 281.2 242.5 281.2 242.4 281.3 243.8 281.4 243.8 282.0 242.9 282.0 243.9 282.1 242.5 282.2 242.5 282.7 243.3 282.8 242.7 282.8 243.8 282.9 244.1 283.4 243.2 283.4 244.3 283.5 242.5 283.5 243.0" fill="none" stroke="#FF0000" stroke-width="0.8" stroke-linejoin="round"/>
<path d="M118 151.6H256.3M283.3 151.6H670.5" stroke="#0072BD" stroke-width="1.6"/>
<path d="M256.3 151.6H283.3" stroke="#FF0000" stroke-width="1.4"/>
<path d="M118 243.3H256.3M283.3 243.3H670.5" stroke="#0072BD" stroke-width="1.6"/>
<path d="M256.3 243.3H283.3" stroke="#FF0000" stroke-width="1.4"/>
<path d="M426.5 53.6C429 54.3 431 54.4 432.5 53.8S436 52.7 439 52.8" fill="none" stroke="#FF0000" stroke-width="1.6"/>
<line x1="678.6" y1="53.7" x2="681" y2="53.7" stroke="#8a8a8a" stroke-width="1.4"/>
<line x1="673.1" y1="53.7" x2="683" y2="53.7" stroke="#0072BD" stroke-width="2.1" stroke-linecap="round" stroke-dasharray="0.3 4.2"/>
<line x1="678.6" y1="151.6" x2="681" y2="151.6" stroke="#8a8a8a" stroke-width="1.4"/>
<line x1="673.1" y1="151.6" x2="683" y2="151.6" stroke="#0072BD" stroke-width="2.1" stroke-linecap="round" stroke-dasharray="0.3 4.2"/>
<line x1="678.6" y1="243.4" x2="681" y2="243.4" stroke="#8a8a8a" stroke-width="1.4"/>
<line x1="673.1" y1="243.4" x2="683" y2="243.4" stroke="#0072BD" stroke-width="2.1" stroke-linecap="round" stroke-dasharray="0.3 4.2"/>
</g>
<g stroke="#1a1a1a" stroke-width="1.1" stroke-dasharray="4 2.2" stroke-dashoffset="1" fill="none">
<line x1="145.50" y1="125.6" x2="145.50" y2="178.2"/>
<line x1="145.50" y1="216.6" x2="145.50" y2="269.4"/>
<line x1="173.13" y1="125.6" x2="173.13" y2="178.2"/>
<line x1="173.13" y1="216.6" x2="173.13" y2="269.4"/>
<line x1="200.77" y1="125.6" x2="200.77" y2="178.2"/>
<line x1="200.77" y1="216.6" x2="200.77" y2="269.4"/>
<line x1="228.40" y1="125.6" x2="228.40" y2="178.2"/>
<line x1="228.40" y1="216.6" x2="228.40" y2="269.4"/>
<line x1="256.04" y1="125.6" x2="256.04" y2="181.8"/>
<line x1="256.04" y1="216.6" x2="256.04" y2="273.0"/>
<line x1="283.67" y1="125.6" x2="283.67" y2="181.8"/>
<line x1="283.67" y1="216.6" x2="283.67" y2="273.0"/>
<line x1="311.30" y1="125.6" x2="311.30" y2="178.2"/>
<line x1="311.30" y1="216.6" x2="311.30" y2="269.4"/>
<line x1="338.94" y1="125.6" x2="338.94" y2="178.2"/>
<line x1="338.94" y1="216.6" x2="338.94" y2="269.4"/>
<line x1="366.57" y1="125.6" x2="366.57" y2="178.2"/>
<line x1="366.57" y1="216.6" x2="366.57" y2="269.4"/>
<line x1="394.21" y1="125.6" x2="394.21" y2="178.2"/>
<line x1="394.21" y1="216.6" x2="394.21" y2="269.4"/>
<line x1="421.84" y1="125.6" x2="421.84" y2="178.2"/>
<line x1="421.84" y1="216.6" x2="421.84" y2="269.4"/>
<line x1="449.47" y1="125.6" x2="449.47" y2="178.2"/>
<line x1="449.47" y1="216.6" x2="449.47" y2="269.4"/>
<line x1="477.11" y1="125.6" x2="477.11" y2="178.2"/>
<line x1="477.11" y1="216.6" x2="477.11" y2="269.4"/>
<line x1="504.74" y1="125.6" x2="504.74" y2="178.2"/>
<line x1="504.74" y1="216.6" x2="504.74" y2="269.4"/>
<line x1="532.38" y1="125.6" x2="532.38" y2="178.2"/>
<line x1="532.38" y1="216.6" x2="532.38" y2="269.4"/>
<line x1="560.01" y1="125.6" x2="560.01" y2="178.2"/>
<line x1="560.01" y1="216.6" x2="560.01" y2="269.4"/>
<line x1="587.64" y1="125.6" x2="587.64" y2="178.2"/>
<line x1="587.64" y1="216.6" x2="587.64" y2="269.4"/>
<line x1="615.28" y1="125.6" x2="615.28" y2="178.2"/>
<line x1="615.28" y1="216.6" x2="615.28" y2="269.4"/>
<line x1="642.91" y1="125.6" x2="642.91" y2="178.2"/>
<line x1="642.91" y1="216.6" x2="642.91" y2="269.4"/>
<line x1="670.55" y1="125.6" x2="670.55" y2="178.2"/>
<line x1="670.55" y1="216.6" x2="670.55" y2="269.4"/>
</g>
<g stroke="#262626" stroke-width="1.1" fill="none">
<path d="M117.5 0.5H684.5V308.5H117.5Z"/>
<line x1="210.00" y1="0" x2="210.00" y2="6"/>
<line x1="210.00" y1="308.5" x2="210.00" y2="302.6"/>
<line x1="302.12" y1="0" x2="302.12" y2="6"/>
<line x1="302.12" y1="308.5" x2="302.12" y2="302.6"/>
<line x1="394.24" y1="0" x2="394.24" y2="6"/>
<line x1="394.24" y1="308.5" x2="394.24" y2="302.6"/>
<line x1="486.36" y1="0" x2="486.36" y2="6"/>
<line x1="486.36" y1="308.5" x2="486.36" y2="302.6"/>
<line x1="578.48" y1="0" x2="578.48" y2="6"/>
<line x1="578.48" y1="308.5" x2="578.48" y2="302.6"/>
<line x1="670.60" y1="0" x2="670.60" y2="6"/>
<line x1="670.60" y1="308.5" x2="670.60" y2="302.6"/>
</g>
<!-- labels -->
<text x="113" y="57.6" font-size="16" text-anchor="end" textLength="68.8" lengthAdjust="spacing">Nasal Flow</text>
<text x="113.4" y="155.9" font-size="16" text-anchor="end" textLength="37.3" lengthAdjust="spacing">Audio</text>
<text x="0.3" y="246.4" font-size="15.2" textLength="112.3" lengthAdjust="spacing">Respiratory sound</text>
<text x="372.2" y="331.2" font-size="16" textLength="58.2" lengthAdjust="spacing">Time (s)</text>
<!-- arrows -->
<g stroke="#000" stroke-width="1.2" fill="none">
<line x1="258" y1="25.2" x2="466" y2="25.2"/>
<line x1="258" y1="82.4" x2="428" y2="82.4"/>
<line x1="258" y1="128.4" x2="281" y2="128.4"/>
</g>
<g fill="#000">
<path d="M255.5 25.2L262.7 21.9L261.1 25.2L262.7 28.5Z"/>
<path d="M468.8 25.2L461.6 21.9L463.2 25.2L461.6 28.5Z"/>
<path d="M255.5 82.4L262.7 79.1L261.1 82.4L262.7 85.7Z"/>
<path d="M430.4 82.4L423.2 79.1L424.8 82.4L423.2 85.7Z"/>
<path d="M255.8 128.4L263.0 125.1L261.4 128.4L263.0 131.7Z"/>
<path d="M283.7 128.4L276.5 125.1L278.1 128.4L276.5 131.7Z"/>
</g>
<!-- braces -->
<g stroke="#1a1a1a" stroke-width="1.1" fill="none">
<path d="M256.4 89.8C256.4 93.4 258 94.9 261.5 94.9H357C359.8 94.9 361.5 96.5 361.8 99.4C362.1 96.5 363.8 94.9 366.6 94.9H463.3C466.8 94.9 468.4 93.4 468.4 89.8"/>
<path d="M256 181.5C256 184.6 257.6 185.9 260.6 185.9H265.8C268 185.9 269.4 187.4 269.7 190.3C270 187.4 271.4 185.9 273.6 185.9H279.2C282.2 185.9 283.8 184.6 283.8 181.5"/>
<path d="M255.6 272.8C255.6 276.1 257.2 277.6 260.3 277.6H265.7C267.9 277.6 269.3 279 269.6 281.4C269.9 279 271.3 277.6 273.5 277.6H279.3C282.4 277.6 284 276.1 284 272.8"/>
</g>
<!-- math labels -->
<g class="k">
<text class="m" x="352.5" y="20.8" font-size="11.6">t</text>
<text class="m" x="356.4" y="22.4" font-size="8" textLength="14.2" lengthAdjust="spacing">max</text>
<text class="m" x="333.1" y="78.8" font-size="11.6">t</text>
<text class="m" x="336.9" y="80.3" font-size="8" textLength="15.3" lengthAdjust="spacing">sync</text>
<text class="m" x="265.9" y="124.2" font-size="11.6">t</text>
<text class="m" x="269.6" y="125.5" font-size="8">s</text>
<text class="m" x="351" y="108.4" font-size="11">x</text>
<text class="m" x="356.4" y="110" font-size="8">p</text>
<text x="361.5" y="108.8" font-size="11.8" textLength="10.8" lengthAdjust="spacing">[<tspan class="m" font-size="11">n</tspan>]</text>
<text class="m" x="259.1" y="199.8" font-size="11">x</text>
<text class="m" x="265.2" y="201.4" font-size="8">j</text>
<text x="268.8" y="200.2" font-size="11.8" textLength="10.6" lengthAdjust="spacing">[<tspan class="m" font-size="11">n</tspan>]</text>
<text class="m" x="256" y="293.6" font-size="11">x</text>
<text class="m" x="261.5" y="295.2" font-size="8">j</text>
<text class="m" x="261.3" y="289" font-size="7.5">opt</text>
<text x="271.6" y="294" font-size="11.8" textLength="11" lengthAdjust="spacing">[<tspan class="m" font-size="11">n</tspan>]</text>
</g>
</svg>
</body></html>
